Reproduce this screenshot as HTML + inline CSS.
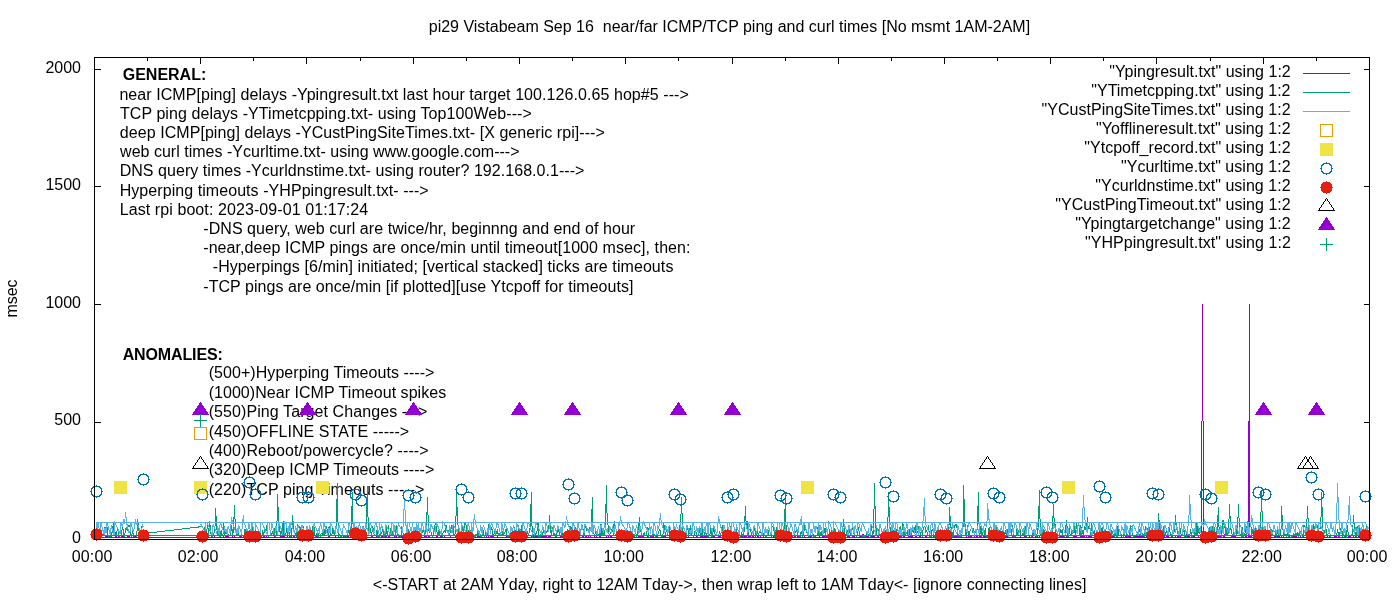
<!DOCTYPE html>
<html lang="en"><head><meta charset="utf-8"><title>pi29 Vistabeam ping and curl times</title>
<style>html,body{margin:0;padding:0;background:#fff}svg{display:block}path,rect,circle{shape-rendering:crispEdges}text{font-family:"Liberation Sans",Arial,sans-serif;font-size:16px;fill:#000}.b{font-weight:bold}.e{text-anchor:end}.m{text-anchor:middle}</style></head><body>
<svg width="1400" height="600" viewBox="0 0 1400 600">
<rect width="1400" height="600" fill="#fff"/>
<g id="labels">
<text x="428.73" y="31.7" textLength="601.4">pi29 Vistabeam Sep 16  near/far ICMP/TCP ping and curl times [No msmt 1AM-2AM]</text>
<text class="b" x="122.7" y="79.7" textLength="83.57">GENERAL:</text>
<text x="119.39" y="99.7" textLength="569.39">near ICMP[ping] delays -Ypingresult.txt last hour target 100.126.0.65 hop#5 ---&gt;</text>
<text x="119.93" y="118.88" textLength="411.88">TCP ping delays -YTimetcpping.txt- using Top100Web---&gt;</text>
<text x="119.8" y="138.06" textLength="484.98">deep ICMP[ping] delays -YCustPingSiteTimes.txt- [X generic rpi]---&gt;</text>
<text x="120.09" y="157.24" textLength="399.4">web curl times -Ycurltime.txt- using www.google.com---&gt;</text>
<text x="119.67" y="176.42" textLength="464.73">DNS query times -Ycurldnstime.txt- using router? 192.168.0.1---&gt;</text>
<text x="119.67" y="195.6" textLength="308.97">Hyperping timeouts -YHPpingresult.txt- ---&gt;</text>
<text x="119.67" y="214.78" textLength="248.51">Last rpi boot: 2023-09-01 01:17:24</text>
<text x="203.26" y="233.96" textLength="431.94">-DNS query, web curl are twice/hr, beginnng and end of hour</text>
<text x="203.26" y="253.14" textLength="487.24">-near,deep ICMP pings are once/min until timeout[1000 msec], then:</text>
<text x="212.76" y="272.32" textLength="460.62">-Hyperpings [6/min] initiated; [vertical stacked] ticks are timeouts</text>
<text x="203.26" y="291.5" textLength="430.28">-TCP pings are once/min [if plotted][use Ytcpoff for timeouts]</text>
<text class="b" x="122.7" y="359.6" textLength="100.11">ANOMALIES:</text>
<text x="208.67" y="378.4" textLength="225.77">(500+)Hyperping Timeouts ----&gt;</text>
<text x="208.67" y="397.8" textLength="237.51">(1000)Near ICMP Timeout spikes</text>
<text x="208.67" y="417.1" textLength="218.73">(550)Ping Target Changes ---&gt;</text>
<text x="208.67" y="436.5" textLength="200.47">(450)OFFLINE STATE -----&gt;</text>
<text x="208.67" y="455.8" textLength="219.89">(400)Reboot/powercycle? ----&gt;</text>
<text x="208.67" y="475.1" textLength="225.65">(320)Deep ICMP Timeouts ----&gt;</text>
<text x="208.67" y="494.5" textLength="215.76">(220)TCP ping Timeouts -----&gt;</text>
</g>
<path d="M94.5,539.5v-6M94.5,57.5v6M147.5,539.5v-3M147.5,57.5v3M200.5,539.5v-6M200.5,57.5v6M253.5,539.5v-3M253.5,57.5v3M306.5,539.5v-6M306.5,57.5v6M360.5,539.5v-3M360.5,57.5v3M413.5,539.5v-6M413.5,57.5v6M466.5,539.5v-3M466.5,57.5v3M519.5,539.5v-6M519.5,57.5v6M572.5,539.5v-3M572.5,57.5v3M625.5,539.5v-6M625.5,57.5v6M678.5,539.5v-3M678.5,57.5v3M732.5,539.5v-6M732.5,57.5v6M785.5,539.5v-3M785.5,57.5v3M838.5,539.5v-6M838.5,57.5v6M891.5,539.5v-3M891.5,57.5v3M944.5,539.5v-6M944.5,57.5v6M997.5,539.5v-3M997.5,57.5v3M1050.5,539.5v-6M1050.5,57.5v6M1103.5,539.5v-3M1103.5,57.5v3M1156.5,539.5v-6M1156.5,57.5v6M1210.5,539.5v-3M1210.5,57.5v3M1263.5,539.5v-6M1263.5,57.5v6M1316.5,539.5v-3M1316.5,57.5v3M1369.5,539.5v-6M1369.5,57.5v6M94.5,539.5h6M1369.5,539.5h-6M94.5,422.5h6M1369.5,422.5h-6M94.5,304.5h6M1369.5,304.5h-6M94.5,186.5h6M1369.5,186.5h-6M94.5,69.5h6M1369.5,69.5h-6" stroke="#000" stroke-width="1" fill="none"/>
<path d="M200.8,537.3 201.6,537.2 202.5,537.4 203.4,537.1 204.3,536.9 205.2,537.3 206.1,537 206.9,537 207.8,534.9 208.7,536.7 209.6,537.5 210.5,537.7 211.4,537.5 212.3,535.8 213.1,537.4 214,537.7 214.9,536.8 215.8,537.4 216.7,537 217.6,537.4 218.5,537.3 219.3,537.3 220.2,536.9 221.1,537.1 222,537.1 222.9,537 223.8,536.9 224.7,537.6 225.5,536.9 226.4,536.8 227.3,537.4 228.2,536.5 229.1,537 230,537.5 230.9,536.9 231.7,537.7 232.6,536.9 233.5,537.3 234.4,537 235.3,537.7 236.2,537 237.1,537.3 237.9,537.6 238.8,537.3 239.7,537.1 240.6,536.8 241.5,535.6 242.4,537.5 243.2,537.5 244.1,537.2 245,537 245.9,537 246.8,537.7 247.7,536.9 248.6,536.8 249.4,537.7 250.3,537.7 251.2,537 252.1,537 253,536.6 253.9,537.1 254.8,537.2 255.6,536 256.5,536.9 257.4,537.6 258.3,537.4 259.2,534.7 260.1,536.7 261,537.5 261.8,536.8 262.7,537.7 263.6,535 264.5,536.9 265.4,537.2 266.3,536.9 267.2,537.7 268,537.3 268.9,537.3 269.8,537.5 270.7,537.7 271.6,537.2 272.5,537.1 273.4,537.7 274.2,536.7 275.1,536.9 276,537 276.9,537.4 277.8,537.1 278.7,537.3 279.6,537.6 280.4,537 281.3,536.8 282.2,537 283.1,536.8 284,536.6 284.9,537.2 285.8,537.4 286.6,537.1 287.5,536.9 288.4,537.2 289.3,536.8 290.2,537 291.1,536.8 291.9,537.4 292.8,537.4 293.7,536.7 294.6,537 295.5,537.2 296.4,537.2 297.3,537.3 298.1,536.6 299,537.6 299.9,536.8 300.8,536.8 301.7,537.6 302.6,536.8 303.5,537.7 304.3,536.7 305.2,536.8 306.1,535.5 307,537.5 307.9,537.7 308.8,537.6 309.7,537.7 310.5,537.6 311.4,537.2 312.3,537 313.2,536.7 314.1,537.6 315,537.3 315.9,536.6 316.7,536.6 317.6,536.8 318.5,536.6 319.4,537.6 320.3,537.4 321.2,537 322.1,537.2 322.9,537.3 323.8,537.5 324.7,537.7 325.6,537.2 326.5,537.3 327.4,537.3 328.2,536.9 329.1,536.7 330,537.7 330.9,537.2 331.8,537 332.7,537.1 333.6,537.2 334.4,537.6 335.3,536.4 336.2,537.3 337.1,537.3 338,537.4 338.9,537.6 339.8,537.2 340.6,536.5 341.5,537.4 342.4,537.3 343.3,536.8 344.2,537.1 345.1,537.3 346,536.7 346.8,536.6 347.7,537.1 348.6,536.9 349.5,537.3 350.4,536.8 351.3,536.9 352.2,536.9 353,536.8 353.9,537 354.8,537.6 355.7,537 356.6,537.7 357.5,536.6 358.4,537.5 359.2,537.4 360.1,536.8 361,536.6 361.9,537.7 362.8,537.1 363.7,536.7 364.6,536.8 365.4,536.9 366.3,537.2 367.2,537.1 368.1,537 369,537.6 369.9,537.6 370.8,537.4 371.6,536.6 372.5,537 373.4,537.3 374.3,537.2 375.2,537 376.1,537.6 376.9,536.6 377.8,537.3 378.7,537.1 379.6,536.8 380.5,537.4 381.4,536.8 382.3,536.7 383.1,536.2 384,536.9 384.9,537.7 385.8,536.8 386.7,536.9 387.6,537.7 388.5,536.7 389.3,536.4 390.2,537 391.1,537.4 392,537 392.9,537.5 393.8,537.6 394.7,536.7 395.5,536.6 396.4,536.7 397.3,537.5 398.2,536.6 399.1,537.3 400,536.7 400.9,536.7 401.7,536.6 402.6,536.8 403.5,537.2 404.4,537.3 405.3,537.1 406.2,537.7 407.1,536.8 407.9,537.4 408.8,537.4 409.7,537.5 410.6,535.1 411.5,537.6 412.4,537.4 413.2,535 414.1,537.6 415,536.6 415.9,537.6 416.8,537.2 417.7,536.7 418.6,536.6 419.4,537.1 420.3,537.1 421.2,536.7 422.1,537 423,537 423.9,537 424.8,536.7 425.6,536.3 426.5,537.2 427.4,537.5 428.3,536.8 429.2,535.7 430.1,536.9 431,537.7 431.8,537.7 432.7,537.6 433.6,537.4 434.5,537.3 435.4,537.1 436.3,537.7 437.2,535.8 438,537.7 438.9,537.5 439.8,537.6 440.7,536.8 441.6,536.8 442.5,537.7 443.4,537.7 444.2,536.6 445.1,537 446,537.6 446.9,537.6 447.8,537.4 448.7,537.3 449.6,537.1 450.4,536.8 451.3,537.2 452.2,537.6 453.1,537.6 454,537.7 454.9,537.4 455.8,536.8 456.6,536.8 457.5,536.7 458.4,537.4 459.3,536.8 460.2,537.6 461.1,537.2 461.9,537.4 462.8,536.7 463.7,537.4 464.6,536.7 465.5,534.8 466.4,536.7 467.3,537.4 468.1,537.6 469,536.9 469.9,537 470.8,537.6 471.7,535.7 472.6,537.4 473.5,537.3 474.3,537.5 475.2,536.7 476.1,537.3 477,537.1 477.9,536.8 478.8,537 479.7,536.9 480.5,537.7 481.4,536.7 482.3,537.5 483.2,537.5 484.1,536.9 485,537.4 485.9,537.2 486.7,536.8 487.6,537.7 488.5,536.7 489.4,537.6 490.3,536.6 491.2,537.1 492.1,536.7 492.9,537.3 493.8,536.9 494.7,537.6 495.6,537.2 496.5,537.2 497.4,536.8 498.2,537.1 499.1,537.3 500,537.7 500.9,537 501.8,537.7 502.7,537.2 503.6,537.7 504.4,537.7 505.3,537.4 506.2,536.8 507.1,537.1 508,537 508.9,535.6 509.8,534.9 510.6,536.7 511.5,536.8 512.4,536.7 513.3,536.9 514.2,537.7 515.1,536.6 516,537.1 516.8,537.4 517.7,536.9 518.6,536.6 519.5,537.7 520.4,537.4 521.3,536.9 522.2,537.1 523,537.1 523.9,536.9 524.8,535 525.7,537.7 526.6,537.5 527.5,537.3 528.4,537.4 529.2,537.2 530.1,537.5 531,537.7 531.9,536.8 532.8,537.6 533.7,536.9 534.6,536.9 535.4,536.7 536.3,537 537.2,536.9 538.1,535.9 539,537.5 539.9,537.3 540.8,537.4 541.6,537 542.5,535.7 543.4,536.9 544.3,536.8 545.2,536.6 546.1,536.8 546.9,536.7 547.8,537.7 548.7,536.5 549.6,536.8 550.5,536.6 551.4,537.5 552.3,537.7 553.1,537.4 554,537.7 554.9,537.6 555.8,536.8 556.7,537.1 557.6,537.3 558.5,537.3 559.3,537 560.2,537.3 561.1,536.6 562,536.6 562.9,537.6 563.8,536.7 564.7,537.6 565.5,537.5 566.4,537.3 567.3,537.3 568.2,537.1 569.1,537.7 570,537.2 570.9,537.3 571.7,536.8 572.6,537 573.5,536.9 574.4,536.9 575.3,537.1 576.2,536.8 577.1,536.6 577.9,537.5 578.8,536.9 579.7,537.5 580.6,537.1 581.5,537.1 582.4,537 583.2,536.8 584.1,537.2 585,537.5 585.9,536.8 586.8,537.1 587.7,537.2 588.6,536.7 589.4,537.7 590.3,536.6 591.2,537.3 592.1,537.5 593,537.2 593.9,537.3 594.8,536.6 595.6,537.4 596.5,536.8 597.4,537.5 598.3,537.3 599.2,536.7 600.1,537.1 601,536.8 601.8,537.5 602.7,537.6 603.6,537.2 604.5,537.5 605.4,537.4 606.3,536.7 607.2,537.1 608,537.6 608.9,536.7 609.8,537.4 610.7,535.6 611.6,537.5 612.5,537.5 613.4,537.1 614.2,537.4 615.1,537.7 616,536.8 616.9,537.2 617.8,537.1 618.7,537.7 619.6,536.6 620.4,537.2 621.3,536.9 622.2,537 623.1,537.7 624,536.4 624.9,537.5 625.8,536.9 626.6,537.3 627.5,536.7 628.4,537.1 629.3,537.4 630.2,537.2 631.1,537.1 631.9,536.7 632.8,537.4 633.7,536.9 634.6,537.2 635.5,537.1 636.4,537.7 637.3,537.6 638.1,537.4 639,536.6 639.9,537.4 640.8,536.2 641.7,537.6 642.6,536.6 643.5,536.6 644.3,537.3 645.2,537.4 646.1,537 647,537.2 647.9,535.3 648.8,537.6 649.7,537.6 650.5,536 651.4,536.9 652.3,536.7 653.2,536.8 654.1,537.2 655,537.3 655.9,537.2 656.7,537.7 657.6,536.8 658.5,537.5 659.4,537.5 660.3,537.2 661.2,537.2 662.1,536.8 662.9,536.9 663.8,536.9 664.7,536.8 665.6,536.7 666.5,537.1 667.4,537.2 668.2,537.6 669.1,537.6 670,537.7 670.9,537.4 671.8,537.7 672.7,536.6 673.6,536.8 674.4,537.7 675.3,537.4 676.2,537.7 677.1,537.4 678,537.5 678.9,537.6 679.8,537.7 680.6,537.7 681.5,537.3 682.4,537.1 683.3,537.5 684.2,537.6 685.1,536.8 686,537.2 686.8,537.4 687.7,537.6 688.6,536.8 689.5,537.4 690.4,537.3 691.3,537.4 692.2,537.1 693,537.1 693.9,537.1 694.8,537.2 695.7,537.5 696.6,536.7 697.5,536.6 698.4,537.4 699.2,537.4 700.1,536.7 701,537.1 701.9,536.9 702.8,536.9 703.7,537 704.6,537 705.4,536.8 706.3,536.7 707.2,536.6 708.1,537.5 709,537.1 709.9,537.2 710.8,537.5 711.6,537.2 712.5,536.9 713.4,537.7 714.3,535.9 715.2,537.4 716.1,537.4 716.9,537.7 717.8,537 718.7,536.8 719.6,536 720.5,537.2 721.4,537.6 722.3,536.7 723.1,537.4 724,537.4 724.9,537.1 725.8,537.6 726.7,536.8 727.6,537.6 728.5,536.7 729.3,536.6 730.2,537.2 731.1,537.1 732,536.6 732.9,537.4 733.8,536.9 734.7,536.8 735.5,537.7 736.4,537.6 737.3,537.4 738.2,537.3 739.1,537.1 740,537.6 740.9,537.4 741.7,535.1 742.6,537.6 743.5,537 744.4,536.9 745.3,536.8 746.2,536.7 747.1,537 747.9,537.5 748.8,536.7 749.7,536.8 750.6,536.7 751.5,537.4 752.4,537 753.2,536.8 754.1,537.1 755,537.3 755.9,536.6 756.8,537.6 757.7,536.9 758.6,536.8 759.4,537.2 760.3,536.6 761.2,537.6 762.1,537.4 763,537.2 763.9,536.8 764.8,537.6 765.6,536.6 766.5,537.4 767.4,537.7 768.3,537.5 769.2,537.3 770.1,537.7 771,537.4 771.8,536.7 772.7,537.3 773.6,536.5 774.5,535.9 775.4,536.8 776.3,537.7 777.2,537.7 778,536.7 778.9,537.2 779.8,536.7 780.7,535.6 781.6,536.9 782.5,537.2 783.4,537.4 784.2,537.1 785.1,537.1 786,536.8 786.9,537.6 787.8,537.2 788.7,537.5 789.6,536.6 790.4,537.7 791.3,537.4 792.2,536.9 793.1,537.4 794,536.8 794.9,536.9 795.8,536.9 796.6,537.4 797.5,536.6 798.4,536.9 799.3,537.2 800.2,536.9 801.1,537.5 801.9,537.2 802.8,536.7 803.7,535 804.6,536.9 805.5,537.7 806.4,537.1 807.3,537.6 808.1,537.3 809,537.5 809.9,537 810.8,535.8 811.7,536.8 812.6,537.4 813.5,537.3 814.3,536.8 815.2,536.9 816.1,537 817,537 817.9,537.2 818.8,537.4 819.7,536.7 820.5,537.3 821.4,537.6 822.3,536.7 823.2,536.7 824.1,536.8 825,537.2 825.9,536.6 826.7,537.1 827.6,536.9 828.5,537.1 829.4,535.4 830.3,536.9 831.2,536.9 832.1,537.2 832.9,537.5 833.8,537 834.7,537.5 835.6,537.7 836.5,537.1 837.4,537 838.2,537.2 839.1,537.1 840,537.5 840.9,537 841.8,537.5 842.7,536.9 843.6,537.6 844.4,537.3 845.3,537.2 846.2,537.4 847.1,536.9 848,536.6 848.9,536.7 849.8,536.6 850.6,537.4 851.5,537.2 852.4,536.7 853.3,536.4 854.2,536.6 855.1,537.1 856,537.2 856.8,536.7 857.7,537.2 858.6,537.2 859.5,537.2 860.4,537.5 861.3,535.8 862.2,536.7 863,534.5 863.9,536.7 864.8,537.7 865.7,537.5 866.6,536.2 867.5,536.9 868.4,535.7 869.2,537.7 870.1,537.6 871,537.1 871.9,536.9 872.8,536.7 873.7,536.9 874.6,536.1 875.4,537.7 876.3,537.3 877.2,537.4 878.1,536.7 879,537.4 879.9,537 880.8,536.7 881.6,536.8 882.5,535.8 883.4,537.4 884.3,537.5 885.2,535.8 886.1,537.3 886.9,536.4 887.8,536.7 888.7,537.5 889.6,537.3 890.5,537.3 891.4,537 892.3,537.4 893.1,537.3 894,537.3 894.9,536.9 895.8,536.9 896.7,537.4 897.6,536.6 898.5,537.5 899.3,537.3 900.2,537.1 901.1,536.8 902,536.9 902.9,537.5 903.8,536.7 904.7,536.9 905.5,537.4 906.4,537.7 907.3,537.3 908.2,537.7 909.1,536.3 910,536.9 910.9,536.9 911.7,536.9 912.6,537 913.5,537.7 914.4,537.3 915.3,537.7 916.2,534.5 917.1,537.7 917.9,537.2 918.8,537.4 919.7,536.7 920.6,536.3 921.5,537.5 922.4,537.4 923.2,537.7 924.1,537.7 925,537 925.9,535.6 926.8,537.6 927.7,537.3 928.6,537.6 929.4,537.7 930.3,537 931.2,537.5 932.1,537.3 933,537.2 933.9,535.2 934.8,535.3 935.6,536.9 936.5,536.7 937.4,537 938.3,537.2 939.2,537.1 940.1,537.3 941,536.7 941.8,537.3 942.7,536.9 943.6,536.8 944.5,536.9 945.4,537.7 946.3,536.7 947.2,536.7 948,537.2 948.9,536.2 949.8,537.5 950.7,537 951.6,536.7 952.5,536.9 953.4,535.8 954.2,537 955.1,536.7 956,537.2 956.9,536.6 957.8,536.7 958.7,537 959.6,536.7 960.4,537.4 961.3,537.7 962.2,537.6 963.1,537.6 964,537.4 964.9,537 965.7,537.5 966.6,537 967.5,537.1 968.4,536.7 969.3,536.8 970.2,537.6 971.1,536.6 971.9,537.6 972.8,537.6 973.7,537.5 974.6,536.7 975.5,537.1 976.4,537 977.3,535.9 978.1,537.1 979,537.5 979.9,536.7 980.8,536.9 981.7,537.4 982.6,537.4 983.5,536.9 984.3,536.6 985.2,536.6 986.1,537.1 987,536.7 987.9,537.7 988.8,537.7 989.7,536.9 990.5,537.1 991.4,537.5 992.3,537.4 993.2,536.8 994.1,536.8 995,536.8 995.9,537.1 996.7,536.8 997.6,536.7 998.5,537.7 999.4,536.6 1000.3,536 1001.2,536.9 1002.1,536.6 1002.9,536.8 1003.8,537.3 1004.7,537.4 1005.6,536.7 1006.5,536.7 1007.4,536.8 1008.2,537 1009.1,537.5 1010,537.4 1010.9,537.6 1011.8,537.4 1012.7,536.7 1013.6,535.7 1014.4,537 1015.3,537.2 1016.2,537.1 1017.1,537.4 1018,537 1018.9,537 1019.8,537.5 1020.6,536.8 1021.5,537.3 1022.4,537.7 1023.3,537 1024.2,537 1025.1,536.6 1026,535.5 1026.8,537.1 1027.7,537.6 1028.6,537.4 1029.5,536.6 1030.4,537.6 1031.3,537.4 1032.2,536.9 1033,536.8 1033.9,537.7 1034.8,537.1 1035.7,536.9 1036.6,537.3 1037.5,537 1038.4,537.6 1039.2,536.5 1040.1,537 1041,537.2 1041.9,537.1 1042.8,537.7 1043.7,537.3 1044.6,536.6 1045.4,537.1 1046.3,536.7 1047.2,536.6 1048.1,536.6 1049,537 1049.9,536.7 1050.8,536.9 1051.6,536.8 1052.5,536.6 1053.4,536.6 1054.3,536.6 1055.2,537.5 1056.1,537.2 1056.9,536.7 1057.8,537.3 1058.7,537.6 1059.6,537.4 1060.5,535.7 1061.4,536.8 1062.3,537 1063.1,536.7 1064,537.3 1064.9,537.1 1065.8,537.5 1066.7,535.5 1067.6,536.7 1068.5,537.2 1069.3,537.4 1070.2,537.4 1071.1,537.1 1072,537.1 1072.9,537.6 1073.8,536.7 1074.7,537.1 1075.5,536.9 1076.4,536.7 1077.3,537.5 1078.2,537.5 1079.1,536.9 1080,537.3 1080.9,536.7 1081.7,537.1 1082.6,537 1083.5,536.6 1084.4,536.8 1085.3,537.4 1086.2,536.9 1087.1,537.1 1087.9,537.2 1088.8,536.7 1089.7,535.5 1090.6,537.1 1091.5,536.9 1092.4,537.2 1093.2,537.6 1094.1,537.7 1095,537.4 1095.9,536.8 1096.8,537.2 1097.7,536.7 1098.6,537 1099.4,537.7 1100.3,537.4 1101.2,537.7 1102.1,534.8 1103,537.1 1103.9,537.2 1104.8,537.4 1105.6,537 1106.5,537.4 1107.4,537.4 1108.3,537 1109.2,537.2 1110.1,535.7 1111,537.7 1111.8,537.1 1112.7,536.9 1113.6,536.8 1114.5,537 1115.4,537.1 1116.3,537.7 1117.2,537.4 1118,537.5 1118.9,537.2 1119.8,537 1120.7,537.4 1121.6,536.9 1122.5,537.7 1123.4,537.5 1124.2,537.6 1125.1,537.1 1126,536.6 1126.9,537.6 1127.8,537.1 1128.7,537 1129.6,535.5 1130.4,537.1 1131.3,537.7 1132.2,537.3 1133.1,536.9 1134,536.9 1134.9,537.7 1135.8,537 1136.6,535.5 1137.5,536.7 1138.4,536.7 1139.3,534.9 1140.2,537.5 1141.1,536.6 1141.9,536.7 1142.8,535.7 1143.7,537 1144.6,536.6 1145.5,537.1 1146.4,537.3 1147.3,535.8 1148.1,536.9 1149,537.2 1149.9,536.7 1150.8,536.9 1151.7,537.6 1152.6,536.7 1153.5,536.6 1154.3,536.8 1155.2,536.9 1156.1,537.2 1157,537.5 1157.9,537.5 1158.8,536.8 1159.7,537.3 1160.5,537 1161.4,536.6 1162.3,537.6 1163.2,537.3 1164.1,537 1165,536.9 1165.9,537.5 1166.7,537 1167.6,535.3 1168.5,535.4 1169.4,537.6 1170.3,537.5 1171.2,536.7 1172.1,535.2 1172.9,537.2 1173.8,537.2 1174.7,537.2 1175.6,536.6 1176.5,537.6 1177.4,537.1 1178.2,536.6 1179.1,537.7 1180,537 1180.9,536.9 1181.8,537.4 1182.7,537 1183.6,537.3 1184.4,536.7 1185.3,537.5 1186.2,535 1187.1,537.2 1188,535.7 1188.9,536.8 1189.8,536.6 1190.6,537.7 1191.5,536.8 1192.4,536.2 1193.3,537.1 1194.2,536.7 1195.1,537.3 1196,537.6 1196.8,537.3 1197.7,537.4 1198.6,537 1199.5,537.5 1200.4,537 1201.3,537.3 1202.2,535.8 1203,536.9 1203.9,537.1 1204.8,536.2 1205.7,537.5 1206.6,536.9 1207.5,537.7 1208.4,537.6 1209.2,537.2 1210.1,537.4 1211,536.9 1211.9,537.6 1212.8,537.3 1213.7,537.6 1214.6,537.6 1215.4,536.8 1216.3,537.4 1217.2,537.4 1218.1,537 1219,536.9 1219.9,536.6 1220.8,536.9 1221.6,536.8 1222.5,537.7 1223.4,536.6 1224.3,535.1 1225.2,537.4 1226.1,537.2 1226.9,536.9 1227.8,537.7 1228.7,537 1229.6,537.3 1230.5,537.1 1231.4,537.3 1232.3,535.6 1233.1,536.9 1234,536.9 1234.9,536.7 1235.8,536.7 1236.7,537.2 1237.6,537.3 1238.5,537.2 1239.3,537.5 1240.2,537.7 1241.1,537.5 1242,537.4 1242.9,537.1 1243.8,537.2 1244.7,537.7 1245.5,535 1246.4,537 1247.3,537.5 1248.2,536.7 1249.1,537.6 1250,536.7 1250.9,537 1251.7,536.9 1252.6,537.7 1253.5,537.5 1254.4,537 1255.3,536.8 1256.2,537.2 1257.1,537.4 1257.9,536.6 1258.8,536.6 1259.7,537.2 1260.6,537.5 1261.5,536.8 1262.4,537.7 1263.2,537.5 1264.1,537.3 1265,536.9 1265.9,536.8 1266.8,537.3 1267.7,537.3 1268.6,537.2 1269.4,536.7 1270.3,537.1 1271.2,537.1 1272.1,536.9 1273,537.6 1273.9,537.4 1274.8,536.6 1275.6,536.6 1276.5,537.4 1277.4,537.2 1278.3,535.3 1279.2,536.7 1280.1,537.3 1281,537.1 1281.8,536.9 1282.7,537.3 1283.6,536.9 1284.5,537.3 1285.4,537.6 1286.3,537 1287.2,537.3 1288,537.5 1288.9,537.1 1289.8,536.8 1290.7,537.1 1291.6,537.2 1292.5,536.8 1293.4,536.7 1294.2,537.4 1295.1,536.6 1296,537.1 1296.9,536.8 1297.8,537.2 1298.7,537.2 1299.6,537.2 1300.4,537.7 1301.3,534.9 1302.2,536.6 1303.1,536.7 1304,537.3 1304.9,537.5 1305.8,537.5 1306.6,536.6 1307.5,535.5 1308.4,536.6 1309.3,537.7 1310.2,537.4 1311.1,537.2 1311.9,536.6 1312.8,537.3 1313.7,536.9 1314.6,537.2 1315.5,537 1316.4,536.7 1317.3,536.7 1318.1,536.9 1319,537.6 1319.9,536.7 1320.8,536.6 1321.7,536.7 1322.6,537.3 1323.5,537.5 1324.3,537.1 1325.2,537.3 1326.1,537.4 1327,536.8 1327.9,537.1 1328.8,537.1 1329.7,536.8 1330.5,537.2 1331.4,537.2 1332.3,537.7 1333.2,537.2 1334.1,536.8 1335,537.1 1335.9,536.8 1336.7,536.7 1337.6,537.2 1338.5,536.9 1339.4,537.3 1340.3,537.6 1341.2,537.5 1342.1,537 1342.9,537.7 1343.8,537 1344.7,535.7 1345.6,537 1346.5,537.7 1347.4,537.3 1348.2,536.6 1349.1,536.9 1350,536.7 1350.9,537.2 1351.8,537.5 1352.7,537.2 1353.6,536.7 1354.4,537.5 1355.3,536.8 1356.2,537.4 1357.1,537 1358,537.6 1358.9,536.7 1359.8,536.7 1360.6,537.1 1361.5,537.4 1362.4,536.7 1363.3,536.8 1364.2,536.6 1365.1,536.8 1366,536.3 1366.8,536.5 1367.7,536.8 1368.6,536.8 1368.4,537.1 96.1,537.1 96.3,537.5 97.2,537.5 98,537.2 98.9,537.5 99.8,537.3 100.7,537.6 101.6,537.3 102.5,537.6 103.4,537.5 104.2,537.7 105.1,536.6 106,534.9 106.9,536.7 107.8,536.7 108.7,536.7 109.6,536.9 110.4,537.1 111.3,536.8 112.2,537.5 113.1,537.5 114,537.1 114.9,537 115.8,536.3 116.6,536.6 117.5,537.6 118.4,537.1 119.3,535.9 120.2,537.6 121.1,536.7 121.9,536.8 122.8,536.9 123.7,535.8 124.6,537.4 125.5,537.2 126.4,537.5 127.3,536.9 128.1,537.6 129,536.6 129.9,537.5 130.8,537.1 131.7,536.7 132.6,537.5 133.5,535.7 134.3,537.3 135.2,536.6 136.1,537.5 137,537.7 137.9,537.3 138.8,536.9 139.7,537.4 140.5,536.9 141.4,537.7 142.3,537.5 143.2,537.5" fill="none" stroke="#9400d3" stroke-width="1" stroke-linejoin="miter"/>
<path d="M1201.5,537V421M1202.5,421V304M1203.5,421V537M1248.5,537V421M1249.5,537V304" fill="none" stroke="#9400d3" stroke-width="1"/>
<path d="M200.8,532.1 201.6,535.5 202.5,530.4 203.4,535.9 204.3,528.8 205.2,526 206.1,532 206.9,529.5 207.8,525.5 208.7,536.4 209.6,520.8 210.5,530.2 211.4,536.1 212.3,536.3 213.1,535.4 214,532.9 214.9,529.6 215.5,508 216.7,527.4 217.6,535.6 218.5,532.9 219.3,536.1 220.2,536.2 221.1,530.3 222,534.6 222.9,535.3 223.8,523.4 224.7,536.1 225.5,530.5 226.4,531.5 227.3,535.4 228.2,534.6 229.1,535.6 230,535.5 230.9,531.8 231.7,525.2 232.6,536.3 233.5,529.2 234.5,505.5 235.3,526.9 236.2,531.3 237.1,536 237.9,529.6 238.8,535.3 239.7,536.2 240.6,535.9 241.5,533.8 242.4,535.9 243.2,535.8 244.1,536.1 245,529 245.9,534.6 246.8,529.5 247.7,530.1 248.6,535.6 249.4,535.4 250.3,531.5 251.2,536 252.1,533.6 253,527.2 253.9,535.4 254.8,533.6 255.6,535.7 256.5,532.8 257.4,534.5 258.3,536.3 259.2,531.4 260.1,531.8 261,535.8 261.8,536.3 262.7,529.8 263.6,535.6 264.5,530 265.4,529.2 266.3,530 267.2,524 268,535.5 268.9,536.3 269.8,535.3 270.7,532.5 271.6,534.3 272.5,531.5 273.4,536.2 274.2,527.7 275.1,535.7 276,536.4 276.9,527.5 277.5,494 278.7,524.3 279.6,528.5 280.4,536 281.3,528.4 282.2,535.9 283.1,520.7 284,535.4 284.9,534.1 285.8,535.7 286.6,526 287.5,535.9 288.4,527.1 289.3,534.5 290.2,536.3 291.1,535.6 291.9,530.7 292.5,515 293.7,528.9 294.6,532.5 295.5,534 296.4,535.7 297.3,524.4 298.1,533.8 299,535.3 299.9,525.8 300.8,534.5 301.7,535.3 302.6,535.6 303.5,526.4 304.3,535.4 305.2,533.7 306.1,536.1 307,536.2 307.9,535.9 308.8,535.4 309.7,530.3 310.5,533.9 311.4,536.1 312.3,530.7 313.2,525.2 314.1,527.5 315,536.3 315.9,535.5 316.7,533.5 317.6,536.4 318.5,536.2 319.4,530.2 320.3,535.9 321.2,533.9 322.1,533.6 322.9,536.2 323.8,527.5 324.7,535.9 325.6,529.9 326.5,526.6 327.4,531.3 328.2,536 329.1,526.5 330,526.9 330.9,535.5 331.8,535.4 332.7,527.7 333.6,531.4 334.4,536.3 335.3,528.9 336.2,525.9 337.5,483 338,521.9 338.9,535.5 339.8,534.5 340.6,536.2 341.5,536 342.4,535.5 343.3,535.7 344.2,536.1 345.1,535.7 346,535.5 346.8,536.2 347.7,535.9 348.6,526.2 349.5,535.3 350.4,526.8 351.3,527.3 352.5,492.5 353,524 353.9,530.7 354.8,531.9 355.7,535.8 356.6,528.1 357.5,528.4 358.4,535.5 359.2,536.2 360.1,534.4 361,535.7 361.9,534.2 362.8,536.4 363.7,525.6 364.6,536 365.4,535.7 366.3,526.3 367.5,486 368.1,522.6 369,532.2 369.9,527.2 370.8,531.4 371.6,535.6 372.5,527 373.4,528.7 374.3,535.8 375.2,535.8 376.1,535.8 376.9,530.5 377.8,536.4 378.7,536 379.6,536.3 380.5,532.5 381.4,533.1 382.3,531.8 383.1,528.8 384,536.4 384.9,535.9 385.8,525.1 386.7,533.5 387.6,535.6 388.5,525.1 389.3,536.1 390.2,532.4 391.1,528 392,536 392.9,531.4 393.8,535.3 394.7,536 395.5,536.3 396.4,525.2 397.3,527.3 398.2,536.4 399.1,535.3 400,535.3 400.9,536.4 401.7,526.3 402.6,532.2 403.5,534 404.4,536 405.3,535.7 406.2,534.1 407.1,530.1 407.9,536.2 408.8,529.5 409.7,535.5 410.6,535.6 411.5,530.7 412.4,535.5 413.2,530.9 414.1,536.3 415,530.5 415.9,535.8 416.8,534.4 417.7,531.1 418.6,536.4 419.4,536 420.3,534 421.2,535.4 422.1,532.8 423,530.1 423.9,530.9 424.8,536 425.6,529.6 426.5,528 427.5,497 428.3,525 429.2,532.5 430.1,531.8 431,531.6 431.8,535.6 432.7,536.1 433.6,535.6 434.5,525.4 435.4,524.9 436.3,522.6 437.2,534.4 438,536.3 438.9,530.3 439.8,535.4 440.7,535.6 441.6,534.2 442.5,535.6 443.4,531.5 444.2,530.9 445.1,532.1 446,525.5 446.9,530.1 447.8,530.7 448.7,531 449.6,535.9 450.4,530.5 451.3,525.4 452.2,530.5 453.1,524.6 454,536.1 454.9,535.5 455.8,526.9 456.5,490 457.5,523.4 458.4,526.9 459.3,536 460.2,530.7 461.1,535.4 461.9,525.9 462.8,530.1 463.7,532.7 464.6,522.7 465.5,522.5 466.4,526.4 467.3,536.3 468.1,530.3 469,535.8 469.9,529.3 470.8,535.4 471.7,535.6 472.6,535.6 473.5,535.3 474.3,536 475.2,536.2 476.1,534.1 477,535.9 477.9,529.3 478.8,535.4 479.7,533 480.5,536.1 481.4,536.4 482.3,536 483.2,530.2 484.1,536.2 485,536.2 485.9,532.1 486.7,535.9 487.6,535.9 488.5,525.6 489.4,527.6 490.3,530.2 491.2,527.5 492.1,529.7 492.9,535.9 493.8,535.8 494.7,528.6 495.6,535.5 496.5,532.2 497.4,530.6 498.2,535.5 499.1,533.2 500,535.6 500.9,534.2 501.8,535.8 502.7,531.2 503.6,534.6 504.4,533.3 505.3,531.7 506.2,528.9 507.1,536 508,536 508.9,536.2 509.8,536.2 510.6,533.1 511.5,533.8 512.4,532.1 513.3,526.1 514.2,527.5 515.1,534.6 516,535.9 516.8,535.9 517.7,535.9 518.6,525 519.5,533.3 520.4,535.9 521.3,525.4 522.2,536.1 523,531.5 523.9,533.6 524.8,532.5 525.7,535.4 526.6,535.4 527.5,531.6 528.4,536.1 529.2,532.1 530.1,527.3 531.5,492.5 531.9,524 532.8,536.3 533.7,534.7 534.6,536.3 535.4,533.4 536.3,533.1 537.2,530.4 538.1,521.8 539,536.4 539.9,535.4 540.8,536.4 541.6,529.6 542.5,535.5 543.4,530.7 544.3,530.4 545.2,531.1 546.1,531.1 546.9,532.3 547.8,526.5 548.7,530.7 549.5,515 550.5,528.9 551.4,535.8 552.3,526.8 553.1,530 554,536 554.9,533.8 555.8,535.6 556.7,536.2 557.6,525.3 558.5,530.6 559.3,532.6 560.2,535.7 561.1,535.3 562,533 562.9,535.3 563.8,535.6 564.7,536.1 565.5,535.7 566.4,533.5 567.3,531 568.2,535.9 569.1,535.5 570,525.8 570.9,535.4 571.7,527.4 572.6,530.1 573.5,535.6 574.4,530.3 575.3,526.8 576.2,535.9 577.1,529 577.9,536.4 578.8,535.5 579.7,536 580.6,529.1 581.5,528.5 582.4,525 583.2,530.6 584.1,536.1 585,526.2 585.9,527.8 586.8,530.3 587.7,529.3 588.6,530.5 589.4,527.2 590.3,528 591.2,528 592.5,497.5 593,525.1 593.9,534 594.8,535.5 595.6,530.9 596.5,536.2 597.4,532.4 598.3,535.6 599.2,533.6 600.1,535.7 601,523.6 601.8,535.7 602.7,531.6 603.6,535.5 604.5,535.5 605.4,526.2 606.5,485 607.2,522.3 608,524.9 608.9,533.7 609.8,534.6 610.7,533.4 611.6,530.3 612.5,528 613.4,535.8 614.2,520.9 615.1,535.9 616,535.8 616.9,536.3 617.8,536.4 618.7,535.8 619.6,528.7 620.4,533.4 621.3,536.1 622.2,536.4 623.1,530.6 624,535.7 624.9,532.2 625.8,536.4 626.6,535.4 627.5,535.8 628.4,536.4 629.3,535.6 630.2,535.9 631.1,531.7 631.9,535.4 632.8,533.8 633.7,535.5 634.6,536 635.5,532.1 636.4,536.2 637.3,535.9 638.1,531 639.5,517.5 639.9,529.5 640.8,531.2 641.7,536 642.6,535.4 643.5,535.8 644.3,531.9 645.2,535.5 646.1,535.8 647,530.8 647.9,526.7 648.8,536.3 649.7,535.5 650.5,535.5 651.4,536.2 652.3,535.4 653.2,527.2 654.1,535.3 655,536 655.9,536.2 656.7,536 657.6,535.4 658.5,532.3 659.4,529.3 660.3,530.2 661.2,536.2 662.1,536.2 662.9,535.7 663.8,523.5 664.7,529.4 665.6,535.7 666.5,526.9 667.4,535.8 668.2,528.7 669.1,526.9 670,536.2 670.9,531.8 671.8,533.6 672.7,535.6 673.6,536.4 674.4,533.9 675.3,528.5 676.2,531.2 677.1,534.1 678,530.2 678.9,536.3 679.8,526.8 680.6,528 681.5,497.5 682.4,525.1 683.3,535.3 684.2,535.6 685.1,536.2 686,535.8 686.8,528.6 687.7,527.3 688.6,535.7 689.5,531.2 690.4,525.5 691.3,535.5 692.2,535.6 693,536.2 693.9,536.2 694.8,532 695.7,530.3 696.6,535.8 697.5,536.1 698.4,535.5 699.2,532.3 700.1,528.2 701,535.9 701.9,526.1 702.8,536 703.7,536.1 704.6,534.7 705.4,529.3 706.3,535.4 707.2,535.9 708.1,536.2 709,536.2 709.9,535.4 710.8,526.7 711.6,536 712.5,536 713.4,528.6 714.3,527.7 715.2,535.9 716.1,535.6 716.9,536.1 717.8,535.5 718.7,535.5 719.6,531.6 720.5,535.6 721.4,531.7 722.3,524.8 723.1,534.7 724,536.3 724.9,533.9 725.8,531.1 726.7,533.6 727.6,530.3 728.5,532.9 729.3,535.5 730.2,532.6 731.1,525.1 732,535.9 732.9,534.7 733.8,535.4 734.7,535.8 735.5,531.1 736.4,526.7 737.3,534.4 738.2,535.4 739.1,533.6 740,535.9 740.9,536.4 741.7,533 742.6,535.5 743.5,536.4 744.4,529.4 745.5,506.3 746.2,527 747.1,521.1 747.9,535.4 748.8,529.4 749.7,530 750.6,528.4 751.5,535.4 752.4,535.7 753.2,535.4 754.1,525.3 755,530.9 755.9,535.3 756.8,534.1 757.7,531.4 758.6,535.5 759.4,531.3 760.3,532.6 761.2,532.6 762.1,532.7 763,536 763.9,533.8 764.8,534.6 765.6,536.1 766.5,536.4 767.4,535.7 768.3,530.5 769.2,535.8 770.1,536.1 771,535.4 771.8,526.4 772.7,526.2 773.6,525.9 774.5,536 775.4,535.8 776.3,526.7 777.2,535.6 778,530.1 778.9,536.1 779.8,535.5 780.7,529.4 781.6,535.9 782.5,535.7 783.4,527.8 784.2,528.1 785.5,498.3 786,525.3 786.9,531.8 787.8,535.3 788.7,536.1 789.6,532.4 790.4,536.1 791.3,533.2 792.2,535.6 793.1,536.2 794,535.3 794.9,532.6 795.8,532 796.6,529.3 797.5,535.8 798.4,535.7 799.3,536.4 800.2,536.3 801.1,531.4 801.9,533.9 802.8,536.2 803.7,534.8 804.6,524.8 805.5,526.5 806.4,532.7 807.3,532.4 808.1,535.8 809,536.4 809.9,535.3 810.8,530.5 811.7,531.2 812.6,531.9 813.5,536.3 814.3,535.9 815.2,536.3 816.1,535.3 817,536.2 817.9,527 818.8,536.1 819.7,529.6 820.5,536 821.4,531.6 822.3,535.9 823.2,531.4 824.1,532.7 825,527.7 825.9,536.3 826.7,535.6 827.6,536.2 828.5,521 829.4,534.4 830.3,536.2 831.2,535.8 832.1,529.8 832.9,534.2 833.8,535.8 834.7,529 835.6,530.5 836.5,533.1 837.4,535.6 838.2,531.7 839.1,531.8 840,535.3 840.9,536.4 841.8,535.4 842.7,531.3 843.5,519 844.4,529.8 845.3,535.4 846.2,535.8 847.1,530.4 848,532.8 848.9,528.2 849.8,532.2 850.6,534.5 851.5,531.9 852.4,525.5 853.3,532.1 854.2,533.8 855.1,535.6 856,536 856.8,536.2 857.7,532.9 858.6,527.3 859.5,536 860.4,535.5 861.3,535.6 862.2,536.3 863,536.1 863.9,536 864.8,536.4 865.7,536.1 866.6,535.7 867.5,530.8 868.4,535.7 869.2,535.3 870.1,536.2 871,525.4 871.9,530.5 872.8,536.4 873.7,525.9 874.5,483.3 875.4,522 876.3,530.4 877.2,536.1 878.1,535.8 879,528.9 879.9,535.6 880.8,536.1 881.6,533.9 882.5,535.3 883.4,536.2 884.3,533.4 885.2,531.5 886.1,536.2 886.9,535.6 887.8,527.3 888.5,492.5 889.6,524 890.5,530.1 891.4,535.9 892.3,535.3 893.1,531.8 894,535.5 894.9,529.8 895.8,535.4 896.7,531.2 897.6,526 898.5,536.2 899.3,531.8 900.2,526.3 901.1,535.7 902,530.3 902.9,522.7 903.8,535.7 904.7,532.7 905.5,536.2 906.4,532.9 907.3,531.3 908.2,536.1 909.1,528.8 910,535.4 910.9,536 911.7,535.3 912.6,525.3 913.5,532.1 914.4,531.4 915.3,525.5 916.2,534.5 917.1,532.8 917.9,531.3 918.8,526.6 919.7,530.1 920.6,535.6 921.5,535.8 922.4,536 923.2,528.7 924.1,526.9 925,526.9 925.9,532.2 926.8,530.5 927.7,536.2 928.6,524.9 929.4,536.1 930.3,536.2 931.2,536.2 932.1,529.8 933,530.8 933.9,535.9 934.8,536.3 935.6,535.7 936.5,535.4 937.4,530.1 938.3,535.8 939.2,531.8 940.1,531.9 941,535.6 941.8,532 942.7,536 943.6,536.4 944.5,530.7 945.4,530.2 946.3,534.6 947.2,534.7 948,535.3 948.9,529.4 949.5,506.7 950.7,527.1 951.6,528.3 952.5,536.4 953.4,536.2 954.2,528.6 955.1,525.1 956,523.8 956.9,526.6 957.8,535.5 958.7,534.3 959.6,536.1 960.4,536.2 961.3,536.4 962.2,533.4 963.1,526.2 963.5,485 964.9,522.3 965.7,535.7 966.6,532.9 967.5,524.6 968.4,535.5 969.3,536.3 970.2,530.1 971.1,528.6 971.9,528.3 972.8,533.4 973.7,528.4 974.6,535.3 975.5,528.7 976.4,536 977.3,527.3 978.5,492.5 979,524 979.9,535.5 980.8,525.9 981.7,536 982.6,534.3 983.5,528.6 984.3,536 985.2,528.4 986.1,536.3 987,536.3 987.9,535.7 988.8,528.2 989.7,527.6 990.5,535.9 991.4,527.6 992.3,536.1 993.2,532 994.1,535.4 995,535.9 995.9,536 996.7,524.9 997.6,535.7 998.5,536.4 999.4,535.7 1000.3,530.9 1001.2,533.9 1002.1,535.6 1002.9,535.5 1003.8,530.9 1004.7,536 1005.6,529.9 1006.5,532.8 1007.4,529.5 1008.2,534 1009.1,536 1010,535.6 1010.9,535.6 1011.8,529.9 1012.7,524.9 1013.6,536.4 1014.4,536.3 1015.3,536.1 1016.2,534.3 1017.1,527.8 1018,536.4 1018.9,531 1019.8,526.9 1020.6,534.7 1021.5,535.3 1022.4,535.5 1023.3,531.6 1024.2,536 1025.1,526.3 1026,534.8 1026.8,536.1 1027.7,535.8 1028.6,535.3 1029.5,535.4 1030.4,535.8 1031.3,536.4 1032.2,535.8 1033,530.4 1033.9,535.5 1034.8,531.6 1035.7,533.7 1036.6,536.4 1037.5,530.5 1038.4,526.9 1039.5,490 1040.1,523.4 1041,535.8 1041.9,536.1 1042.8,528.1 1043.7,533.6 1044.6,530.1 1045.4,533.8 1046.3,536.1 1047.2,535.3 1048.1,531 1049,535.6 1049.9,533.9 1050.8,535.6 1051.6,536 1052.5,529 1053.5,504 1054.3,526.5 1055.2,525.5 1056.1,535.6 1056.9,536.1 1057.8,535.7 1058.7,535.9 1059.6,536.2 1060.5,529.2 1061.4,532 1062.3,529.5 1063.1,535.6 1064,535.5 1064.9,536.3 1065.8,526.1 1066.7,520.3 1067.6,536.4 1068.5,536.1 1069.3,526.5 1070.2,535.6 1071.1,535.3 1072,529.9 1072.9,534 1073.8,524.9 1074.7,531.2 1075.5,536 1076.4,523.5 1077.3,527.7 1078.2,525 1079.1,525.2 1080,536.3 1080.9,525.4 1081.7,536 1082.6,530.3 1083.5,535.5 1084.4,526.4 1085.3,527.2 1086.2,530.9 1087.5,516.7 1087.9,529.3 1088.8,527.1 1089.7,525 1090.6,535.7 1091.5,523.5 1092.4,536 1093.2,533.6 1094.1,530.5 1095,535.5 1095.9,536.2 1096.8,536.2 1097.7,530.7 1098.6,535.4 1099.4,528.2 1100.3,535.4 1101.2,535.6 1102.1,527.2 1103,535.8 1103.9,532.5 1104.8,536.4 1105.6,530.6 1106.5,533.5 1107.4,536.4 1108.3,533.9 1109.2,535.8 1110.1,536.1 1111,535.9 1111.8,530.3 1112.7,533.3 1113.6,535.6 1114.5,536.3 1115.4,532.5 1116.3,536.4 1117.2,536.1 1118,525.8 1118.9,535.3 1119.8,535.8 1120.7,534.3 1121.6,535.4 1122.5,535.6 1123.4,536.1 1124.2,526.8 1125.1,536.1 1126,535.3 1126.9,533.8 1127.8,536.3 1128.7,535.8 1129.6,536 1130.4,526 1131.3,526.6 1132.2,525.6 1133.1,535.6 1134,536.4 1134.9,535.9 1135.8,536 1136.6,534.6 1137.5,533 1138.4,535.9 1139.3,529.6 1140.2,530.6 1141.1,535.4 1141.9,536 1142.8,534 1143.7,535.7 1144.6,536.3 1145.5,526.4 1146.4,536 1147.3,535.8 1148.1,526.7 1149,526.8 1149.9,536.1 1150.8,535.6 1151.7,536.4 1152.6,535.4 1153.5,532.8 1154.3,535.6 1155.2,534 1156.1,531.1 1157,535.3 1157.9,530.4 1158.5,513.3 1159.7,528.6 1160.5,530.1 1161.4,535.7 1162.3,534 1163.2,536.3 1164.1,524.9 1165,535.9 1165.9,532.2 1166.7,531.7 1167.6,536.4 1168.5,530.1 1169.4,524.9 1170.3,535.6 1171.2,534.6 1172.1,536.2 1172.9,533.6 1173.8,532.1 1174.7,530.7 1175.5,515 1176.5,528.9 1177.4,530.5 1178.2,535.6 1179.1,536.3 1180,528.5 1180.9,533.5 1181.8,535.5 1182.7,535.6 1183.6,524.2 1184.4,536 1185.3,535.3 1186.2,536.2 1187.1,535.3 1188,534.4 1188.9,535.9 1189.8,535.5 1190.6,529.1 1191.5,536.1 1192.4,536.2 1193.3,535.7 1194.2,535.4 1195.1,527.8 1196,535.8 1196.8,523.2 1197.7,536.3 1198.6,525.9 1199.5,531.1 1200.4,535.5 1201.3,536.4 1202.2,531.3 1203,532.3 1203.9,534.6 1204.8,530.7 1205.7,536.1 1206.6,532.9 1207.5,534.1 1208.4,532.4 1209.2,526.8 1210.1,533.5 1211,528.5 1211.9,533.2 1212.8,526.3 1213.7,530.4 1214.6,528.4 1215.4,536.1 1216.3,536.1 1217.2,529.4 1218.5,506.7 1219,527.1 1219.9,535.5 1220.8,535.4 1221.6,536.1 1222.5,520.9 1223.4,520.4 1224.3,526.8 1225.2,524.6 1226.1,535.8 1226.9,527.1 1227.8,535.4 1228.7,529 1229.5,504 1230.5,526.5 1231.4,531.8 1232.3,535.3 1233.1,535.3 1234,532.6 1234.9,532.6 1235.8,525.8 1236.7,535.9 1237.6,529 1238.5,504 1239.3,526.5 1240.2,535.5 1241.1,536 1242,527.3 1242.9,536.2 1243.8,536.2 1244.7,535.6 1245.5,528.3 1246.4,536.4 1247.3,520.8 1248.2,526.4 1249.1,533.3 1250,535.9 1250.9,535.9 1251.7,527.5 1252.6,532.5 1253.5,530.6 1254.4,531.3 1255.3,526.1 1256.2,530.9 1257.1,535.7 1257.9,535.4 1258.8,527.8 1259.7,530.3 1260.6,527.3 1261.5,492.5 1262.4,524 1263.2,535.8 1264.1,527.6 1265,536.2 1265.9,536 1266.8,535.6 1267.7,536.4 1268.6,536.4 1269.4,530.3 1270.3,535.5 1271.2,528.9 1272.1,535.4 1273,530.5 1273.9,531.2 1274.8,531.6 1275.6,534.2 1276.5,535.6 1277.4,529.6 1278.3,536.1 1279.2,530.7 1280.1,535.3 1281,529.4 1281.5,506.5 1282.7,527.1 1283.6,536.4 1284.5,533.1 1285.4,535.4 1286.3,536.1 1287.2,533.1 1288,535.6 1288.9,536.3 1289.8,534.5 1290.7,535.6 1291.6,536.2 1292.5,536.4 1293.4,533.9 1294.2,534.5 1295.1,535.7 1296,533.5 1296.9,535.5 1297.8,532.6 1298.7,536.1 1299.6,534.1 1300.4,530.7 1301.3,535.8 1302.2,536.3 1303.1,534.4 1304,525.1 1304.9,525.4 1305.8,535.7 1306.6,529.4 1307.5,506.5 1308.4,527.1 1309.3,532.8 1310.2,531.8 1311.1,536.4 1311.9,525.3 1312.8,532.3 1313.7,525.2 1314.6,526.6 1315.5,536.1 1316.4,535.9 1317.3,535.5 1318.1,523.4 1319,528.7 1319.9,529 1320.8,527.3 1321.5,492.5 1322.6,524 1323.5,536.2 1324.3,533.3 1325.2,529.8 1326.1,529.3 1327,535.6 1327.9,534.1 1328.8,533.1 1329.7,532.8 1330.5,536.3 1331.4,535.4 1332.3,535.5 1333.2,535.6 1334.1,535.9 1335,536.1 1335.9,535.5 1336.7,535.4 1337.6,529.1 1338.5,535.5 1339.4,536.2 1340.3,530.4 1341.2,527.4 1342.1,531.4 1342.9,536.4 1343.8,534.3 1344.7,536.1 1345.6,534.6 1346.5,536.4 1347.4,524.8 1348.2,534.7 1349.1,535.6 1350,535.6 1350.9,535.4 1351.8,535.8 1352.7,530.7 1353.5,515 1354.4,528.9 1355.3,533.5 1356.2,535.3 1357.1,525.6 1358,532.1 1358.9,536.3 1359.8,526 1360.6,535.4 1361.5,534.4 1362.4,536.2 1363.3,525.7 1364.2,532.7 1365.1,528.2 1366,535.7 1366.8,525.3 1367.7,528 1368.6,535.7 1368.4,536 97.7,535.7 96.3,530.5 97.2,530.8 98,534.5 98.9,536.2 99.8,530.6 100.7,527.1 101.6,535.8 102.5,535.8 103.4,535.3 104.2,530.3 105.1,527 106,532.7 106.9,526 107.8,536 108.7,536.2 109.6,535.7 110.4,536.2 111.3,535.5 112.2,531.7 113.5,522 114,530.5 114.9,535.4 115.8,532.6 116.6,535.3 117.5,526.9 118.4,531.9 119.3,536.4 120.2,536 121.1,535.6 121.9,530.9 122.8,527.1 123.7,533.8 124.6,535.6 125.5,529.3 126.4,528.1 127.3,530.7 128.1,525.8 129,526.5 129.9,525.8 130.8,535.8 131.7,536.2 132.6,529.5 133.5,536.2 134.3,536 135.2,535.6 136.1,536.3 137,531.3 137.5,519 138.8,529.8 139.7,535.9 140.5,535.3 141.4,525.6 142.3,534.2 143.2,533.7 201.8,526.6" fill="none" stroke="#009e73" stroke-width="1" stroke-linejoin="miter"/>
<path d="M200.8,524 201.6,525.6 202.5,527.3 203.4,529 204.3,530.6 205.2,532.3 206.1,522 206.9,522.1 207.8,524.5 208.7,526.6 209.6,528.8 210.5,530.9 211.4,533.1 212.3,535.2 213.1,524.3 214,526.5 214.9,528.6 215.8,530.7 216.7,532.9 217.6,526.4 218.5,530.7 219.3,535 220.2,522.1 221.1,524.7 222,527.4 222.9,530.1 223.8,532.7 224.7,527.4 225.5,532.4 226.4,528.8 227.3,535.1 228.2,525.7 229.1,529.4 230,533.1 230.9,525.7 231.5,517 232.6,523.5 233.5,525.2 234.4,528.1 235.3,530.9 236.2,533.8 237.1,528.1 237.9,533.8 238.8,525.1 239.7,528 240.6,530.8 241.5,533.7 242.4,525.1 243.5,515 244.1,522.6 245,525.1 245.9,527.8 246.8,530.5 247.7,533.2 248.6,522.1 249.4,526.2 250.3,530.3 251.2,534.5 252.1,522.3 253,526.7 253.9,530.9 254.8,535.1 255.6,524.3 256.5,526.1 257.4,528 258.3,529.8 259.2,531.7 260.1,533.5 261,522.5 261.8,522.3 262.7,524.4 263.6,526.5 264.5,528.5 265.4,530.6 266.3,532.7 267.2,534.7 268,522.3 268.9,522.5 269.8,528.4 270.7,534.7 271.6,522.5 272.5,525.8 273.4,529.7 274.2,533.6 275.1,532.9 276,526.1 276.9,530.6 277.8,535.2 278.7,522.4 279.6,524.6 280.4,527 281.3,529.3 282.2,531.7 283.1,534 284,534.2 284.9,522 285.8,522.4 286.6,526.4 287.5,530.1 288.4,533.9 289.3,522.6 290.2,532.9 291.1,522 291.9,525 292.8,528 293.7,530.9 294.6,533.9 295.5,525.9 296.4,529.3 297.3,532.7 298.1,525 299,527.9 299.9,530.8 300.8,533.7 301.7,524.6 302.6,527.1 303.5,529.7 304.3,532.2 305.2,534.7 306.1,535 307,526.1 307.9,530.7 308.8,535.2 309.7,525.5 310.5,528.7 311.4,531.9 312.3,535.1 313.2,533.3 314.1,523.4 315,525.7 315.9,528 316.7,530.3 317.6,532.6 318.5,528.1 319.4,534 320.3,522 321.2,525.7 322.1,529.3 322.9,532.9 323.8,522 324.7,525.5 325.6,528.5 326.5,531.5 327.4,534.6 328.2,532.6 329.1,527.6 330,533 330.9,524.2 331.8,525.8 332.7,527.5 333.6,529.1 334.4,530.7 335.3,532.4 336.2,525.8 337.1,529.3 338,532.8 338.9,524.9 339.8,527.4 340.6,529.9 341.5,532.4 342.4,534.9 343.3,524.3 344.2,526.2 345.1,528.2 346,530.2 346.8,532.1 347.7,534.1 348.6,522 349.5,524.6 350.4,526.7 351.3,528.8 352.2,530.9 353,533 353.9,522.4 354.8,526.9 355.7,533.4 356.6,525.8 357.5,529.6 358.4,533.3 359.2,522.1 360.1,526 361,529.8 361.9,533.6 362.8,526.4 363.7,530.7 364.6,535 365.4,522.4 366.3,525.3 367.2,528.3 368.1,531.4 369,534.4 369.9,522.4 370.8,524.4 371.6,526.6 372.5,528.9 373.4,531.1 374.3,533.3 375.2,522.4 376.1,522.4 376.9,526 377.8,530.1 378.7,534.1 379.6,522.5 380.5,533.1 381.4,524.4 382.3,526.7 383.1,529 384,531.3 384.9,533.6 385.8,524.3 386.7,526.4 387.6,528.4 388.5,530.5 389.3,532.5 390.2,534.6 391.1,533.6 392,522.3 392.9,522 393.8,534.4 394.7,525.4 395.5,528.3 396.4,531.2 397.3,534.1 398.2,523.8 399.1,525.5 400,527.2 400.9,528.9 401.7,530.6 402.6,532.3 403.5,520 404.5,498 405.3,515.9 406.2,528 407.1,533.6 407.9,522.2 408.8,522.4 409.7,526.1 410.6,529.7 411.5,533.3 412.4,522.2 413.2,528.7 414.1,534.9 415,527.1 415.9,533 416.8,522.2 417.7,533.8 418.6,522.3 419.4,533.5 420.3,527.8 421.2,533.5 422.1,522.2 423,525.8 423.9,529.5 424.8,533.1 425.6,522.2 426.5,528.5 427.4,534.8 428.3,525.7 429.2,529 430.1,532.2 431,524.3 431.8,526.1 432.7,527.8 433.6,529.6 434.5,531.3 435.4,533.1 436.3,522.5 437.2,524.3 438,526.4 438.9,528.5 439.8,530.6 440.7,532.8 441.6,534.9 442.5,522 443.4,522.2 444.2,523.6 445.1,525.9 446,528.2 446.9,530.5 447.8,532.8 448.7,535.1 449.6,525.2 450.4,528 451.3,530.7 452.2,533.4 453.1,524.1 454,525.7 454.9,527.4 455.8,529.1 456.6,530.7 457.5,532.4 458.4,525.8 459.3,529 460.2,532.2 461.1,535.5 461.9,524.4 462.8,526.2 463.7,528 464.6,529.8 465.5,531.6 466.4,533.4 467.3,534 468.1,522.5 469,526.2 469.9,530.2 470.8,534.2 471.7,522.5 472.6,535.4 473.5,524.8 474.5,514 475.2,522.2 476.1,525 477,527.6 477.9,530.2 478.8,532.8 479.7,535.4 480.5,524.8 481.4,529.4 482.3,533.9 483.2,524.9 484.1,527.3 485,529.7 485.9,532.1 486.7,534.6 487.6,528.5 488.5,534.8 489.4,522.2 490.3,533.5 491.2,522.5 492.1,524.5 492.9,526.6 493.8,528.6 494.7,530.7 495.6,532.7 496.5,522.5 497.4,522.4 498.2,525.2 499.1,528.5 500,531.7 500.9,534.9 501.8,522.5 502.7,527.7 503.6,533.1 504.4,522.6 505.3,524.3 506.2,526.5 507.1,528.7 508,530.9 508.9,533 509.8,535.2 510.6,525.6 511.5,529.1 512.4,532.7 513.3,525.2 514.2,528.2 515.1,531.3 516,534.3 516.8,524.2 517.7,525.9 518.6,527.7 519.5,529.4 520.4,531.1 521.3,532.8 522.2,532.4 523,522.7 523.9,525.3 524.8,528 525.7,530.7 526.6,533.3 527.5,522.5 528.4,522.2 529.2,524.8 530.1,527.2 531,529.6 531.9,532 532.8,534.3 533.7,528.4 534.6,534.6 535.4,522.4 536.3,523.8 537.2,525.6 538.1,527.3 539,529 539.9,530.8 540.8,532.5 541.6,533.9 542.5,525.1 543.4,528.3 544.3,531.4 545.2,534.6 546.1,522.2 546.9,525.5 547.8,528.9 548.7,532.3 549.6,522.5 550.5,524.9 551.4,527.5 552.3,530.1 553.1,532.6 554,524.9 554.9,527.5 555.8,530.2 556.7,532.8 557.6,525.1 558.5,527.7 559.3,530.3 560.2,532.9 561.1,526.8 562,533 562.9,522.3 563.8,525 564.7,527.5 565.5,525.4 566.5,516 567.3,523 568.2,524.8 569.1,527.3 570,529.8 570.9,532.3 571.7,532.5 572.6,522.5 573.5,522.2 574.4,528 575.3,533.7 576.2,527.6 577.1,533.2 577.9,522.5 578.8,526.6 579.7,530.9 580.6,535.3 581.5,524.2 582.4,527.2 583.2,530.3 584.1,533.3 585,524.2 585.9,526.1 586.8,527.9 587.7,529.8 588.6,531.6 589.4,533.5 590.3,527.2 591.2,532.3 592.1,522.3 593,533.6 593.9,524.9 594.8,527.5 595.6,530 596.5,532.6 597.4,535.1 598.3,526.1 599.2,529.7 600.1,533.3 601,524.7 601.8,527.4 602.7,530 603.6,532.6 604.5,522.4 605.4,526.3 606.3,532.3 607.2,527.6 608,533.1 608.9,532.6 609.8,525.9 610.7,529.2 611.6,532.5 612.5,526.2 613.4,530 614.2,533.9 615.1,525.5 616,528.7 616.9,531.8 617.8,535 618.7,524.1 619.6,525.3 620.5,515.8 621.3,523 622.2,524 623.1,525.7 624,527.3 624.9,529 625.8,530.7 626.6,532.4 627.5,522.5 628.4,522.2 629.3,525.2 630.2,528.1 631.1,531 631.9,534 632.8,525.1 633.7,527.7 634.6,530.4 635.5,533 636.4,525 637.3,527.9 638.1,530.8 639,533.7 639.9,525.6 640.8,529 641.7,532.5 642.6,522.5 643.5,522 644.3,524.2 645.2,525.9 646.1,527.7 647,529.4 647.9,531.2 648.8,532.9 649.7,522.4 650.5,533.6 651.4,526.1 652.3,530.2 653.2,534.3 654.1,522.1 655,526.3 655.9,530.6 656.7,534.9 657.6,524.9 658.5,527.5 659.4,524.6 660.5,513.3 661.2,522 662.1,525 662.9,527.6 663.8,530.3 664.7,532.8 665.6,525.2 666.5,528 667.4,530.7 668.2,533.4 669.1,524.8 670,527.2 670.9,529.6 671.8,532 672.7,534.4 673.6,522.2 674.4,528.7 675.3,535 676.2,524.5 677.1,526.9 678,529.3 678.9,531.7 679.8,534.1 680.6,522.5 681.5,532.8 682.4,524.5 683.3,526.7 684.2,528.9 685.1,531.1 686,533.3 686.8,524.7 687.7,526.9 688.6,529.1 689.5,531.2 690.4,533.4 691.3,528.3 692.2,534.1 693,522.5 693.9,525.7 694.8,529.5 695.7,533.2 696.6,526.1 697.5,530.1 698.4,534.1 699.2,525.8 700.1,529.6 701,533.3 701.9,522.5 702.8,527.5 703.7,532.5 704.6,527.5 705.4,532.9 706.3,522.2 707.2,522.3 708.1,535.2 709,522.3 709.9,525 710.8,527.6 711.6,530.2 712.5,532.7 713.4,524.8 714.3,527.4 715.2,530 716.1,532.6 716.9,534.2 717.8,525.4 718.5,516 719.6,523 720.5,525.8 721.4,529.2 722.3,532.7 723.1,534.5 724,525.4 724.9,528.5 725.8,531.6 726.7,534.7 727.6,522.2 728.5,534.8 729.3,522.2 730.2,528.6 731.1,535.1 732,522.4 732.9,522.1 733.8,526.3 734.7,530.5 735.5,534.7 736.4,524.5 737.3,527.7 738.2,530.9 739.1,534.2 740,522.3 740.9,524.9 741.7,527.6 742.6,530.3 743.5,533.1 744.4,522.2 745.3,522.1 746.2,525.9 747.1,529.5 747.9,533.2 748.8,524.1 749.7,526.1 750.6,528.1 751.5,530.1 752.4,532.1 753.2,534.1 754.1,525.1 755,528 755.9,530.9 756.8,533.9 757.7,522 758.6,524.9 759.4,527.4 760.3,529.8 761.2,532.3 762.1,534.8 763,522.4 763.9,528.6 764.8,535.2 765.6,526.8 766.5,531 767.4,535.2 768.3,525.8 769.2,529.1 770.1,532.4 771,534.4 771.8,522.3 772.7,522.6 773.6,525.6 774.5,528.8 775.4,532.1 776.3,535.3 777.2,533.8 778,522.4 778.9,522.1 779.8,527.2 780.7,534.4 781.6,522.3 782.5,524.6 783.4,527.2 784.2,529.8 785.1,532.4 786,522.3 786.9,522.3 787.8,526.2 788.7,530.1 789.6,534 790.4,522.3 791.3,525.1 792.2,528 793.1,530.9 794,533.8 794.9,524.3 795.8,526.4 796.6,528.5 797.5,530.6 798.4,532.7 799.3,522.2 800.2,525.4 801.5,516 801.9,523 802.8,535.4 803.7,522.6 804.6,523.7 805.5,527 806.4,530.2 807.3,533.5 808.1,535 809,522.5 809.9,528.6 810.8,534.8 811.7,528.6 812.6,534.6 813.5,522.3 814.3,527.5 815.2,532.6 816.1,525.8 817,529.3 817.9,532.7 818.8,522.1 819.7,533 820.5,525.2 821.4,528.2 822.3,531.3 823.2,534.4 824.1,522.1 825,522.2 825.9,526.4 826.7,530.5 827.6,534.7 828.5,522.4 829.4,522.3 830.3,525.1 831.2,527.7 832.1,530.3 832.9,533 833.8,522 834.7,522.5 835.6,524 836.5,525.7 837.4,527.4 838.2,529.1 839.1,530.7 840,532.4 840.9,522.5 841.8,525.7 842.7,529.1 843.6,532.6 844.4,524.6 845.3,527.2 846.2,529.8 847.1,532.4 848,535 848.9,525.2 849.8,528.3 850.6,531.5 851.5,534.6 852.4,522.6 853.3,528.3 854.2,534.1 855.1,525.5 856,529 856.8,532.6 857.7,522.2 858.6,522.3 859.5,525.8 860.4,529.1 861.3,532.4 862.2,522.5 863,524.3 863.9,526.3 864.8,528.3 865.7,530.3 866.6,532.3 867.5,534.3 868.4,528.4 869.2,534.6 870.1,534.6 871,524 871.9,525.8 872.8,527.6 873.7,529.5 874.6,531.3 875.4,533.1 876.3,525.5 877.2,528.5 878.1,531.6 879,534.6 879.9,524.1 880.8,527.5 881.6,530.9 882.5,534.3 883.4,528.6 884.3,535.1 885.2,525.8 886.1,529.3 886.9,532.7 887.8,527.6 888.7,532.6 889.6,522.6 890.5,522.3 891.4,527.2 892.3,532.3 893.1,522.4 894,527.7 894.9,533 895.8,522.5 896.7,522.5 897.6,527.4 898.5,532.6 899.3,528.8 900.2,535.1 901.1,528.8 902,535.2 902.9,533.4 903.8,526.3 904.7,530.4 905.5,534.4 906.4,522.5 907.3,525.3 908.2,530.4 909.1,535.5 910,535 910.9,527.5 911.7,532.5 912.6,525.4 913.5,528.6 914.4,531.8 915.3,535.1 916.2,535.2 917.1,522 917.9,528.7 918.8,535.3 919.7,525.7 920.6,529.3 921.5,532.9 922.4,524.7 923.2,520.1 924.5,498.3 925,516 925.9,524.5 926.8,526.7 927.7,528.9 928.6,531.1 929.4,533.2 930.3,533.4 931.2,522.5 932.1,522.5 933,528.2 933.9,534.3 934.8,522.5 935.6,528.1 936.5,534.3 937.4,527.5 938.3,533 939.2,522.6 940.1,522.5 941,524.7 941.8,527 942.7,529.3 943.6,531.6 944.5,533.9 945.4,525.8 946.3,529.4 947.2,532.9 948,524.2 948.9,526.4 949.8,528.5 950.7,530.7 951.6,532.9 952.5,524.3 953.4,526.2 954.2,528.1 955.1,530 956,531.9 956.9,533.8 957.8,525.5 958.7,528.7 959.6,531.9 960.4,535.1 961.3,528.2 962.2,534 963.1,522.2 964,524.3 964.9,526.4 965.7,528.5 966.6,530.5 967.5,532.6 968.4,522.1 969.3,522.2 970.2,524.1 971.1,526.2 971.9,528.3 972.8,530.3 973.7,532.4 974.6,534.5 975.5,528.6 976.4,534.5 977.3,526.1 978.1,529.6 979,533.2 979.9,522 980.8,524.7 981.7,527.3 982.6,529.9 983.5,532.5 984.3,522.1 985.2,524.4 986.1,526.4 987,521.6 987.5,503.3 988.8,518 989.7,524.4 990.5,526.4 991.4,528.4 992.3,530.4 993.2,532.4 994.1,522.3 995,533.5 995.9,524.6 996.7,526.6 997.6,528.6 998.5,530.6 999.4,532.6 1000.3,534.6 1001.2,526.2 1002.1,530.5 1002.9,534.7 1003.8,522.5 1004.7,525.1 1005.6,528 1006.5,531 1007.4,534 1008.2,535.4 1009.1,522.1 1010,533.3 1010.9,522.5 1011.8,526.1 1012.7,530.1 1013.6,534.2 1014.4,522.5 1015.3,522.4 1016.2,525.6 1017.1,528.8 1018,532 1018.9,535.2 1019.8,522.2 1020.6,525.1 1021.5,527.7 1022.4,530.3 1023.3,533 1024.2,526.4 1025.1,530.5 1026,534.6 1026.8,522.5 1027.7,522.1 1028.6,534.7 1029.5,522.5 1030.4,524.9 1031.3,527.6 1032.2,530.3 1033,533 1033.9,528.8 1034.8,535.1 1035.7,535 1036.6,522 1037.5,525.2 1038.4,528.1 1039.2,531 1040.1,533.9 1041,526.9 1041.9,533.5 1042.8,524.2 1043.7,526 1044.6,527.9 1045.4,529.8 1046.3,531.7 1047.2,533.5 1048.1,522.4 1049,526.1 1049.9,529.9 1050.8,533.7 1051.6,528.5 1052.5,534.5 1053.4,524.2 1054.3,526 1055.2,527.8 1056.1,529.6 1056.9,531.4 1057.8,533.1 1058.7,527.6 1059.6,533 1060.5,522.2 1061.4,522.5 1062.3,525 1063.1,527.6 1064,530.2 1064.9,532.8 1065.8,535.3 1066.7,526.5 1067.6,530.9 1068.5,535.3 1069.3,524.6 1070.2,526.7 1071.1,528.9 1072,531 1072.9,533.2 1073.8,522.2 1074.7,525 1075.5,528 1076.4,531 1077.3,533.9 1078.2,523 1079.1,525.5 1080,527.9 1080.9,530.4 1081.7,532.9 1082.6,519.2 1083.5,495.3 1084.4,514.8 1085.3,522.4 1086.2,527.4 1087.1,532.5 1087.9,522.3 1088.8,522.2 1089.7,526.4 1090.6,530.6 1091.5,534.7 1092.4,534.4 1093.2,522.4 1094.1,524.8 1095,527.3 1095.9,529.8 1096.8,532.3 1097.7,534.9 1098.6,522.1 1099.4,522.2 1100.3,533.1 1101.2,522.5 1102.1,522.2 1103,525.4 1103.9,528.6 1104.8,531.8 1105.6,535 1106.5,522.4 1107.4,522.6 1108.3,526.4 1109.2,530.4 1110.1,534.4 1111,524.5 1111.8,526.5 1112.7,528.5 1113.6,530.5 1114.5,532.5 1115.4,528.7 1116.3,534.9 1117.2,522.1 1118,525.3 1118.9,528.4 1119.8,531.4 1120.7,534.5 1121.6,525.5 1122.5,528.5 1123.4,531.4 1124.2,534.4 1125.1,522.4 1126,533.3 1126.9,525.2 1127.8,528.8 1128.7,532.4 1129.6,528.4 1130.4,534.5 1131.3,527.7 1132.2,532.9 1133.1,524.2 1134,526.2 1134.9,528.3 1135.8,530.3 1136.6,532.3 1137.5,534.3 1138.4,535.4 1139.3,522 1140.2,528 1141.1,534.2 1141.9,522.4 1142.8,525.2 1143.7,528.4 1144.6,531.5 1145.5,534.7 1146.4,526.8 1147.3,531 1148.1,535.3 1149,522.3 1149.9,522.4 1150.8,526.6 1151.7,532.9 1152.6,522.4 1153.5,525.7 1154.3,529.2 1155.2,532.8 1156.1,522.4 1157,535 1157.9,522 1158.8,527.1 1159.7,533.9 1160.5,522.5 1161.4,526.5 1162.3,530.5 1163.2,534.6 1164.1,533.4 1165,524.9 1165.9,527.5 1166.7,530.1 1167.6,532.6 1168.5,535.2 1169.4,522.6 1170.3,522.4 1171.2,526.3 1172.1,530.5 1172.9,534.7 1173.8,522 1174.7,527.5 1175.6,532.9 1176.5,525.4 1177.4,528.8 1178.2,532.1 1179.1,535.4 1180,522.4 1180.9,522.2 1181.8,528.1 1182.7,533.8 1183.6,524.5 1184.4,527 1185.3,529.5 1186.2,532 1187.1,534.5 1188,526.1 1188.9,519.1 1189.5,495 1190.6,514.6 1191.5,526.2 1192.4,530.1 1193.3,533.8 1194.2,527.6 1195.1,532.8 1196,522.4 1196.8,522.1 1197.7,524.9 1198.6,527.5 1199.5,530.1 1200.4,532.7 1201.3,522.3 1202.2,522.4 1203,524.5 1203.9,526.3 1204.5,519 1205.7,524.2 1206.6,524.7 1207.5,527 1208.4,529.4 1209.2,531.7 1210.1,533.9 1211,526.4 1211.9,530.8 1212.8,535.2 1213.7,522.1 1214.6,522.1 1215.4,525.1 1216.3,528.1 1217.2,531.1 1218.1,534 1219,528.9 1219.9,535.4 1220.8,525.1 1221.6,528.1 1222.5,531.1 1223.4,534 1224.3,522 1225.2,524.8 1226.1,527.3 1226.9,529.7 1227.8,532.2 1228.7,527.9 1229.6,533.4 1230.5,522.4 1231.4,522.5 1232.3,525.3 1233.1,528.6 1234,531.8 1234.9,535.1 1235.8,525 1236.7,527.6 1237.6,530.2 1238.5,532.8 1239.3,535.3 1240.2,525.1 1241.1,527.6 1242,530.1 1242.9,532.6 1243.8,535.1 1244.7,522.3 1245.5,526.4 1246.4,530.1 1247.3,533.9 1248.2,522 1249.1,535 1250,527.4 1250.9,525.1 1251.5,515 1252.6,522.6 1253.5,527.5 1254.4,532.5 1255.3,525.7 1256.2,528.8 1257.1,532 1257.9,535.2 1258.8,524.9 1259.7,527.6 1260.6,530.3 1261.5,533 1262.4,522.3 1263.2,528.3 1264.1,534.1 1265,526.4 1265.9,530.5 1266.8,534.5 1267.7,522.1 1268.6,522.2 1269.4,525.5 1270.3,528.4 1271.2,531.3 1272.1,534.2 1273,532.5 1273.9,525.1 1274.8,528 1275.6,530.9 1276.5,533.9 1277.4,526.4 1278.3,530.7 1279.2,535 1280.1,522.2 1281,522.1 1281.8,525.2 1282.7,528.1 1283.6,531 1284.5,533.9 1285.4,525.6 1286.3,529.1 1287.2,532.6 1288,522.3 1288.9,534.8 1289.8,522.2 1290.7,532.7 1291.6,522.5 1292.5,524.7 1293.4,527.3 1294.2,529.9 1295.1,532.6 1296,522.5 1296.9,524.4 1297.8,526.5 1298.7,528.5 1299.6,530.6 1300.4,532.6 1301.3,534.6 1302.2,524.8 1303.1,527.4 1304,530 1304.9,532.6 1305.8,526.5 1306.6,530.6 1307.5,534.6 1308.4,522 1309.3,526.7 1310.2,530.9 1311.1,535 1311.9,525.2 1312.8,528.3 1313.7,531.3 1314.6,534.4 1315.5,522.1 1316.4,525.7 1317.3,529.1 1318.1,532.4 1319,522.1 1319.9,524 1320.8,526 1321.7,527.9 1322.6,529.9 1323.5,531.8 1324.3,533.8 1325.2,532.7 1326.1,522.3 1327,525 1327.9,528 1328.8,531 1329.7,534 1330.5,522.2 1331.4,522.2 1332.3,532.2 1333.2,526.3 1334.1,530.5 1335,534.6 1335.9,525.1 1336.7,515.6 1337.5,483.3 1338.5,510 1339.4,527 1340.3,531.6 1341.2,534.4 1342.1,522.2 1342.9,528.3 1343.8,534.2 1344.7,528.2 1345.6,534.3 1346.5,522.1 1347.4,522.2 1348.2,519.5 1349.5,496.3 1350,515.2 1350.9,524.4 1351.8,526.5 1352.7,528.6 1353.6,530.7 1354.4,532.8 1355.3,527.2 1356.2,532.4 1357.1,528.1 1358,535.4 1358.9,524.9 1359.8,527.4 1360.6,529.9 1361.5,532.5 1362.4,522.2 1363.3,525.9 1364.2,529.5 1365.1,533.1 1366,528.3 1366.8,534.3 1367.7,525.7 1368.6,528.9 1365.2,522.5 96.1,522.5 96.3,532.1 97.2,535.3 98,522.4 98.9,527.8 99.8,533.5 100.7,522.6 101.6,525.4 102.5,528.6 103.4,531.8 104.2,535 105.1,527.8 106,533.2 106.9,522.5 107.8,525.7 108.7,528.8 109.6,532 110.4,535.1 111.3,525.5 112.2,528.6 113.1,531.7 114,534.8 114.9,522.5 115.8,524.3 116.6,526.3 117.5,528.2 118.4,530.2 119.3,532.2 120.2,534.2 121.1,522.3 121.9,525.6 122.8,526.3 123.5,519 124.6,524.2 125.5,511.7 126.4,521.3 127.3,526 128.1,529.6 129,532.9 129.9,532.9 130.8,522.3 131.7,525.6 132.6,529 133.5,532.4 134.3,526.5 135.5,519.5 136.1,524.5 137,522.3 137.9,524.8 138.8,527.3 139.7,529.8 140.5,532.3 141.4,534.8 142.3,524.6 143.2,526.7" fill="none" stroke="#56b4e9" stroke-width="1" stroke-linejoin="miter"/>
<g id="pts">
<rect x="194.5" y="427.5" width="12" height="12" fill="none" stroke="#e69f00" stroke-width="1"/>
<rect x="114" y="481" width="13" height="13" fill="#f0e442"/>
<rect x="194" y="481" width="13" height="13" fill="#f0e442"/>
<rect x="316" y="481" width="13" height="13" fill="#f0e442"/>
<rect x="801" y="481" width="13" height="13" fill="#f0e442"/>
<rect x="1062" y="481" width="13" height="13" fill="#f0e442"/>
<rect x="1215" y="481" width="13" height="13" fill="#f0e442"/>
<path d="M94.1,486.5L98.9,486.5L101.5,489.1L101.5,493.9L98.9,496.5L94.1,496.5L91.5,493.9L91.5,489.1Z" fill="none" stroke="#0072b2" stroke-width="1"/><path d="M96.5,486V485M96.5,497V498M91,491.5H90M102,491.5H103" stroke="#0072b2" stroke-width="1" fill="none"/>
<path d="M141.1,474.5L145.9,474.5L148.5,477.1L148.5,481.9L145.9,484.5L141.1,484.5L138.5,481.9L138.5,477.1Z" fill="none" stroke="#0072b2" stroke-width="1"/><path d="M143.5,474V473M143.5,485V486M138,479.5H137M149,479.5H150" stroke="#0072b2" stroke-width="1" fill="none"/>
<path d="M200.1,489.5L204.9,489.5L207.5,492.1L207.5,496.9L204.9,499.5L200.1,499.5L197.5,496.9L197.5,492.1Z" fill="none" stroke="#0072b2" stroke-width="1"/><path d="M202.5,489V488M202.5,500V501M197,494.5H196M208,494.5H209" stroke="#0072b2" stroke-width="1" fill="none"/>
<path d="M247.1,477.5L251.9,477.5L254.5,480.1L254.5,484.9L251.9,487.5L247.1,487.5L244.5,484.9L244.5,480.1Z" fill="none" stroke="#0072b2" stroke-width="1"/><path d="M249.5,477V476M249.5,488V489M244,482.5H243M255,482.5H256" stroke="#0072b2" stroke-width="1" fill="none"/>
<path d="M253.1,489.5L257.9,489.5L260.5,492.1L260.5,496.9L257.9,499.5L253.1,499.5L250.5,496.9L250.5,492.1Z" fill="none" stroke="#0072b2" stroke-width="1"/><path d="M255.5,489V488M255.5,500V501M250,494.5H249M261,494.5H262" stroke="#0072b2" stroke-width="1" fill="none"/>
<path d="M300.1,492.5L304.9,492.5L307.5,495.1L307.5,499.9L304.9,502.5L300.1,502.5L297.5,499.9L297.5,495.1Z" fill="none" stroke="#0072b2" stroke-width="1"/><path d="M302.5,492V491M302.5,503V504M297,497.5H296M308,497.5H309" stroke="#0072b2" stroke-width="1" fill="none"/>
<path d="M306.1,492.5L310.9,492.5L313.5,495.1L313.5,499.9L310.9,502.5L306.1,502.5L303.5,499.9L303.5,495.1Z" fill="none" stroke="#0072b2" stroke-width="1"/><path d="M308.5,492V491M308.5,503V504M303,497.5H302M314,497.5H315" stroke="#0072b2" stroke-width="1" fill="none"/>
<path d="M353.1,489.5L357.9,489.5L360.5,492.1L360.5,496.9L357.9,499.5L353.1,499.5L350.5,496.9L350.5,492.1Z" fill="none" stroke="#0072b2" stroke-width="1"/><path d="M355.5,489V488M355.5,500V501M350,494.5H349M361,494.5H362" stroke="#0072b2" stroke-width="1" fill="none"/>
<path d="M359.1,495.5L363.9,495.5L366.5,498.1L366.5,502.9L363.9,505.5L359.1,505.5L356.5,502.9L356.5,498.1Z" fill="none" stroke="#0072b2" stroke-width="1"/><path d="M361.5,495V494M361.5,506V507M356,500.5H355M367,500.5H368" stroke="#0072b2" stroke-width="1" fill="none"/>
<path d="M406.1,490.5L410.9,490.5L413.5,493.1L413.5,497.9L410.9,500.5L406.1,500.5L403.5,497.9L403.5,493.1Z" fill="none" stroke="#0072b2" stroke-width="1"/><path d="M408.5,490V489M408.5,501V502M403,495.5H402M414,495.5H415" stroke="#0072b2" stroke-width="1" fill="none"/>
<path d="M413.1,492.5L417.9,492.5L420.5,495.1L420.5,499.9L417.9,502.5L413.1,502.5L410.5,499.9L410.5,495.1Z" fill="none" stroke="#0072b2" stroke-width="1"/><path d="M415.5,492V491M415.5,503V504M410,497.5H409M421,497.5H422" stroke="#0072b2" stroke-width="1" fill="none"/>
<path d="M459.1,484.5L463.9,484.5L466.5,487.1L466.5,491.9L463.9,494.5L459.1,494.5L456.5,491.9L456.5,487.1Z" fill="none" stroke="#0072b2" stroke-width="1"/><path d="M461.5,484V483M461.5,495V496M456,489.5H455M467,489.5H468" stroke="#0072b2" stroke-width="1" fill="none"/>
<path d="M466.1,492.5L470.9,492.5L473.5,495.1L473.5,499.9L470.9,502.5L466.1,502.5L463.5,499.9L463.5,495.1Z" fill="none" stroke="#0072b2" stroke-width="1"/><path d="M468.5,492V491M468.5,503V504M463,497.5H462M474,497.5H475" stroke="#0072b2" stroke-width="1" fill="none"/>
<path d="M513.1,488.5L517.9,488.5L520.5,491.1L520.5,495.9L517.9,498.5L513.1,498.5L510.5,495.9L510.5,491.1Z" fill="none" stroke="#0072b2" stroke-width="1"/><path d="M515.5,488V487M515.5,499V500M510,493.5H509M521,493.5H522" stroke="#0072b2" stroke-width="1" fill="none"/>
<path d="M519.1,488.5L523.9,488.5L526.5,491.1L526.5,495.9L523.9,498.5L519.1,498.5L516.5,495.9L516.5,491.1Z" fill="none" stroke="#0072b2" stroke-width="1"/><path d="M521.5,488V487M521.5,499V500M516,493.5H515M527,493.5H528" stroke="#0072b2" stroke-width="1" fill="none"/>
<path d="M566.1,479.5L570.9,479.5L573.5,482.1L573.5,486.9L570.9,489.5L566.1,489.5L563.5,486.9L563.5,482.1Z" fill="none" stroke="#0072b2" stroke-width="1"/><path d="M568.5,479V478M568.5,490V491M563,484.5H562M574,484.5H575" stroke="#0072b2" stroke-width="1" fill="none"/>
<path d="M572.1,493.5L576.9,493.5L579.5,496.1L579.5,500.9L576.9,503.5L572.1,503.5L569.5,500.9L569.5,496.1Z" fill="none" stroke="#0072b2" stroke-width="1"/><path d="M574.5,493V492M574.5,504V505M569,498.5H568M580,498.5H581" stroke="#0072b2" stroke-width="1" fill="none"/>
<path d="M619.1,487.5L623.9,487.5L626.5,490.1L626.5,494.9L623.9,497.5L619.1,497.5L616.5,494.9L616.5,490.1Z" fill="none" stroke="#0072b2" stroke-width="1"/><path d="M621.5,487V486M621.5,498V499M616,492.5H615M627,492.5H628" stroke="#0072b2" stroke-width="1" fill="none"/>
<path d="M625.1,495.5L629.9,495.5L632.5,498.1L632.5,502.9L629.9,505.5L625.1,505.5L622.5,502.9L622.5,498.1Z" fill="none" stroke="#0072b2" stroke-width="1"/><path d="M627.5,495V494M627.5,506V507M622,500.5H621M633,500.5H634" stroke="#0072b2" stroke-width="1" fill="none"/>
<path d="M672.1,489.5L676.9,489.5L679.5,492.1L679.5,496.9L676.9,499.5L672.1,499.5L669.5,496.9L669.5,492.1Z" fill="none" stroke="#0072b2" stroke-width="1"/><path d="M674.5,489V488M674.5,500V501M669,494.5H668M680,494.5H681" stroke="#0072b2" stroke-width="1" fill="none"/>
<path d="M678.1,494.5L682.9,494.5L685.5,497.1L685.5,501.9L682.9,504.5L678.1,504.5L675.5,501.9L675.5,497.1Z" fill="none" stroke="#0072b2" stroke-width="1"/><path d="M680.5,494V493M680.5,505V506M675,499.5H674M686,499.5H687" stroke="#0072b2" stroke-width="1" fill="none"/>
<path d="M725.1,492.5L729.9,492.5L732.5,495.1L732.5,499.9L729.9,502.5L725.1,502.5L722.5,499.9L722.5,495.1Z" fill="none" stroke="#0072b2" stroke-width="1"/><path d="M727.5,492V491M727.5,503V504M722,497.5H721M733,497.5H734" stroke="#0072b2" stroke-width="1" fill="none"/>
<path d="M731.1,489.5L735.9,489.5L738.5,492.1L738.5,496.9L735.9,499.5L731.1,499.5L728.5,496.9L728.5,492.1Z" fill="none" stroke="#0072b2" stroke-width="1"/><path d="M733.5,489V488M733.5,500V501M728,494.5H727M739,494.5H740" stroke="#0072b2" stroke-width="1" fill="none"/>
<path d="M778.1,490.5L782.9,490.5L785.5,493.1L785.5,497.9L782.9,500.5L778.1,500.5L775.5,497.9L775.5,493.1Z" fill="none" stroke="#0072b2" stroke-width="1"/><path d="M780.5,490V489M780.5,501V502M775,495.5H774M786,495.5H787" stroke="#0072b2" stroke-width="1" fill="none"/>
<path d="M784.1,493.5L788.9,493.5L791.5,496.1L791.5,500.9L788.9,503.5L784.1,503.5L781.5,500.9L781.5,496.1Z" fill="none" stroke="#0072b2" stroke-width="1"/><path d="M786.5,493V492M786.5,504V505M781,498.5H780M792,498.5H793" stroke="#0072b2" stroke-width="1" fill="none"/>
<path d="M831.1,489.5L835.9,489.5L838.5,492.1L838.5,496.9L835.9,499.5L831.1,499.5L828.5,496.9L828.5,492.1Z" fill="none" stroke="#0072b2" stroke-width="1"/><path d="M833.5,489V488M833.5,500V501M828,494.5H827M839,494.5H840" stroke="#0072b2" stroke-width="1" fill="none"/>
<path d="M838.1,492.5L842.9,492.5L845.5,495.1L845.5,499.9L842.9,502.5L838.1,502.5L835.5,499.9L835.5,495.1Z" fill="none" stroke="#0072b2" stroke-width="1"/><path d="M840.5,492V491M840.5,503V504M835,497.5H834M846,497.5H847" stroke="#0072b2" stroke-width="1" fill="none"/>
<path d="M883.1,477.5L887.9,477.5L890.5,480.1L890.5,484.9L887.9,487.5L883.1,487.5L880.5,484.9L880.5,480.1Z" fill="none" stroke="#0072b2" stroke-width="1"/><path d="M885.5,477V476M885.5,488V489M880,482.5H879M891,482.5H892" stroke="#0072b2" stroke-width="1" fill="none"/>
<path d="M891.1,491.5L895.9,491.5L898.5,494.1L898.5,498.9L895.9,501.5L891.1,501.5L888.5,498.9L888.5,494.1Z" fill="none" stroke="#0072b2" stroke-width="1"/><path d="M893.5,491V490M893.5,502V503M888,496.5H887M899,496.5H900" stroke="#0072b2" stroke-width="1" fill="none"/>
<path d="M938.1,489.5L942.9,489.5L945.5,492.1L945.5,496.9L942.9,499.5L938.1,499.5L935.5,496.9L935.5,492.1Z" fill="none" stroke="#0072b2" stroke-width="1"/><path d="M940.5,489V488M940.5,500V501M935,494.5H934M946,494.5H947" stroke="#0072b2" stroke-width="1" fill="none"/>
<path d="M944.1,493.5L948.9,493.5L951.5,496.1L951.5,500.9L948.9,503.5L944.1,503.5L941.5,500.9L941.5,496.1Z" fill="none" stroke="#0072b2" stroke-width="1"/><path d="M946.5,493V492M946.5,504V505M941,498.5H940M952,498.5H953" stroke="#0072b2" stroke-width="1" fill="none"/>
<path d="M991.1,488.5L995.9,488.5L998.5,491.1L998.5,495.9L995.9,498.5L991.1,498.5L988.5,495.9L988.5,491.1Z" fill="none" stroke="#0072b2" stroke-width="1"/><path d="M993.5,488V487M993.5,499V500M988,493.5H987M999,493.5H1000" stroke="#0072b2" stroke-width="1" fill="none"/>
<path d="M997.1,492.5L1001.9,492.5L1004.5,495.1L1004.5,499.9L1001.9,502.5L997.1,502.5L994.5,499.9L994.5,495.1Z" fill="none" stroke="#0072b2" stroke-width="1"/><path d="M999.5,492V491M999.5,503V504M994,497.5H993M1005,497.5H1006" stroke="#0072b2" stroke-width="1" fill="none"/>
<path d="M1044.1,487.5L1048.9,487.5L1051.5,490.1L1051.5,494.9L1048.9,497.5L1044.1,497.5L1041.5,494.9L1041.5,490.1Z" fill="none" stroke="#0072b2" stroke-width="1"/><path d="M1046.5,487V486M1046.5,498V499M1041,492.5H1040M1052,492.5H1053" stroke="#0072b2" stroke-width="1" fill="none"/>
<path d="M1050.1,492.5L1054.9,492.5L1057.5,495.1L1057.5,499.9L1054.9,502.5L1050.1,502.5L1047.5,499.9L1047.5,495.1Z" fill="none" stroke="#0072b2" stroke-width="1"/><path d="M1052.5,492V491M1052.5,503V504M1047,497.5H1046M1058,497.5H1059" stroke="#0072b2" stroke-width="1" fill="none"/>
<path d="M1097.1,481.5L1101.9,481.5L1104.5,484.1L1104.5,488.9L1101.9,491.5L1097.1,491.5L1094.5,488.9L1094.5,484.1Z" fill="none" stroke="#0072b2" stroke-width="1"/><path d="M1099.5,481V480M1099.5,492V493M1094,486.5H1093M1105,486.5H1106" stroke="#0072b2" stroke-width="1" fill="none"/>
<path d="M1103.1,492.5L1107.9,492.5L1110.5,495.1L1110.5,499.9L1107.9,502.5L1103.1,502.5L1100.5,499.9L1100.5,495.1Z" fill="none" stroke="#0072b2" stroke-width="1"/><path d="M1105.5,492V491M1105.5,503V504M1100,497.5H1099M1111,497.5H1112" stroke="#0072b2" stroke-width="1" fill="none"/>
<path d="M1150.1,488.5L1154.9,488.5L1157.5,491.1L1157.5,495.9L1154.9,498.5L1150.1,498.5L1147.5,495.9L1147.5,491.1Z" fill="none" stroke="#0072b2" stroke-width="1"/><path d="M1152.5,488V487M1152.5,499V500M1147,493.5H1146M1158,493.5H1159" stroke="#0072b2" stroke-width="1" fill="none"/>
<path d="M1156.1,489.5L1160.9,489.5L1163.5,492.1L1163.5,496.9L1160.9,499.5L1156.1,499.5L1153.5,496.9L1153.5,492.1Z" fill="none" stroke="#0072b2" stroke-width="1"/><path d="M1158.5,489V488M1158.5,500V501M1153,494.5H1152M1164,494.5H1165" stroke="#0072b2" stroke-width="1" fill="none"/>
<path d="M1203.1,489.5L1207.9,489.5L1210.5,492.1L1210.5,496.9L1207.9,499.5L1203.1,499.5L1200.5,496.9L1200.5,492.1Z" fill="none" stroke="#0072b2" stroke-width="1"/><path d="M1205.5,489V488M1205.5,500V501M1200,494.5H1199M1211,494.5H1212" stroke="#0072b2" stroke-width="1" fill="none"/>
<path d="M1209.1,493.5L1213.9,493.5L1216.5,496.1L1216.5,500.9L1213.9,503.5L1209.1,503.5L1206.5,500.9L1206.5,496.1Z" fill="none" stroke="#0072b2" stroke-width="1"/><path d="M1211.5,493V492M1211.5,504V505M1206,498.5H1205M1217,498.5H1218" stroke="#0072b2" stroke-width="1" fill="none"/>
<path d="M1256.1,487.5L1260.9,487.5L1263.5,490.1L1263.5,494.9L1260.9,497.5L1256.1,497.5L1253.5,494.9L1253.5,490.1Z" fill="none" stroke="#0072b2" stroke-width="1"/><path d="M1258.5,487V486M1258.5,498V499M1253,492.5H1252M1264,492.5H1265" stroke="#0072b2" stroke-width="1" fill="none"/>
<path d="M1263.1,489.5L1267.9,489.5L1270.5,492.1L1270.5,496.9L1267.9,499.5L1263.1,499.5L1260.5,496.9L1260.5,492.1Z" fill="none" stroke="#0072b2" stroke-width="1"/><path d="M1265.5,489V488M1265.5,500V501M1260,494.5H1259M1271,494.5H1272" stroke="#0072b2" stroke-width="1" fill="none"/>
<path d="M1309.1,472.5L1313.9,472.5L1316.5,475.1L1316.5,479.9L1313.9,482.5L1309.1,482.5L1306.5,479.9L1306.5,475.1Z" fill="none" stroke="#0072b2" stroke-width="1"/><path d="M1311.5,472V471M1311.5,483V484M1306,477.5H1305M1317,477.5H1318" stroke="#0072b2" stroke-width="1" fill="none"/>
<path d="M1316.1,489.5L1320.9,489.5L1323.5,492.1L1323.5,496.9L1320.9,499.5L1316.1,499.5L1313.5,496.9L1313.5,492.1Z" fill="none" stroke="#0072b2" stroke-width="1"/><path d="M1318.5,489V488M1318.5,500V501M1313,494.5H1312M1324,494.5H1325" stroke="#0072b2" stroke-width="1" fill="none"/>
<path d="M1363.1,491.5L1367.9,491.5L1370.5,494.1L1370.5,498.9L1367.9,501.5L1363.1,501.5L1360.5,498.9L1360.5,494.1Z" fill="none" stroke="#0072b2" stroke-width="1"/><path d="M1365.5,491V490M1365.5,502V503M1360,496.5H1359M1371,496.5H1372" stroke="#0072b2" stroke-width="1" fill="none"/>
<path d="M93.8,529L99.2,529L102,531.8L102,537.2L99.2,540L93.8,540L91,537.2L91,531.8Z" fill="#e51e10"/><path d="M96.5,529V528M96.5,540V541M91,534.5H90M102,534.5H103" stroke="#e51e10" stroke-width="1" fill="none"/>
<path d="M140.8,530L146.2,530L149,532.8L149,538.2L146.2,541L140.8,541L138,538.2L138,532.8Z" fill="#e51e10"/><path d="M143.5,530V529M143.5,541V542M138,535.5H137M149,535.5H150" stroke="#e51e10" stroke-width="1" fill="none"/>
<path d="M199.8,531L205.2,531L208,533.8L208,539.2L205.2,542L199.8,542L197,539.2L197,533.8Z" fill="#e51e10"/><path d="M202.5,531V530M202.5,542V543M197,536.5H196M208,536.5H209" stroke="#e51e10" stroke-width="1" fill="none"/>
<path d="M246.8,531L252.2,531L255,533.8L255,539.2L252.2,542L246.8,542L244,539.2L244,533.8Z" fill="#e51e10"/><path d="M249.5,531V530M249.5,542V543M244,536.5H243M255,536.5H256" stroke="#e51e10" stroke-width="1" fill="none"/>
<path d="M252.8,531L258.2,531L261,533.8L261,539.2L258.2,542L252.8,542L250,539.2L250,533.8Z" fill="#e51e10"/><path d="M255.5,531V530M255.5,542V543M250,536.5H249M261,536.5H262" stroke="#e51e10" stroke-width="1" fill="none"/>
<path d="M299.8,530L305.2,530L308,532.8L308,538.2L305.2,541L299.8,541L297,538.2L297,532.8Z" fill="#e51e10"/><path d="M302.5,530V529M302.5,541V542M297,535.5H296M308,535.5H309" stroke="#e51e10" stroke-width="1" fill="none"/>
<path d="M305.8,530L311.2,530L314,532.8L314,538.2L311.2,541L305.8,541L303,538.2L303,532.8Z" fill="#e51e10"/><path d="M308.5,530V529M308.5,541V542M303,535.5H302M314,535.5H315" stroke="#e51e10" stroke-width="1" fill="none"/>
<path d="M352.8,528L358.2,528L361,530.8L361,536.2L358.2,539L352.8,539L350,536.2L350,530.8Z" fill="#e51e10"/><path d="M355.5,528V527M355.5,539V540M350,533.5H349M361,533.5H362" stroke="#e51e10" stroke-width="1" fill="none"/>
<path d="M358.8,530L364.2,530L367,532.8L367,538.2L364.2,541L358.8,541L356,538.2L356,532.8Z" fill="#e51e10"/><path d="M361.5,530V529M361.5,541V542M356,535.5H355M367,535.5H368" stroke="#e51e10" stroke-width="1" fill="none"/>
<path d="M405.8,533L411.2,533L414,535.8L414,541.2L411.2,544L405.8,544L403,541.2L403,535.8Z" fill="#e51e10"/><path d="M408.5,533V532M408.5,544V545M403,538.5H402M414,538.5H415" stroke="#e51e10" stroke-width="1" fill="none"/>
<path d="M412.8,531L418.2,531L421,533.8L421,539.2L418.2,542L412.8,542L410,539.2L410,533.8Z" fill="#e51e10"/><path d="M415.5,531V530M415.5,542V543M410,536.5H409M421,536.5H422" stroke="#e51e10" stroke-width="1" fill="none"/>
<path d="M458.8,532L464.2,532L467,534.8L467,540.2L464.2,543L458.8,543L456,540.2L456,534.8Z" fill="#e51e10"/><path d="M461.5,532V531M461.5,543V544M456,537.5H455M467,537.5H468" stroke="#e51e10" stroke-width="1" fill="none"/>
<path d="M465.8,532L471.2,532L474,534.8L474,540.2L471.2,543L465.8,543L463,540.2L463,534.8Z" fill="#e51e10"/><path d="M468.5,532V531M468.5,543V544M463,537.5H462M474,537.5H475" stroke="#e51e10" stroke-width="1" fill="none"/>
<path d="M512.8,531L518.2,531L521,533.8L521,539.2L518.2,542L512.8,542L510,539.2L510,533.8Z" fill="#e51e10"/><path d="M515.5,531V530M515.5,542V543M510,536.5H509M521,536.5H522" stroke="#e51e10" stroke-width="1" fill="none"/>
<path d="M518.8,531L524.2,531L527,533.8L527,539.2L524.2,542L518.8,542L516,539.2L516,533.8Z" fill="#e51e10"/><path d="M521.5,531V530M521.5,542V543M516,536.5H515M527,536.5H528" stroke="#e51e10" stroke-width="1" fill="none"/>
<path d="M565.8,531L571.2,531L574,533.8L574,539.2L571.2,542L565.8,542L563,539.2L563,533.8Z" fill="#e51e10"/><path d="M568.5,531V530M568.5,542V543M563,536.5H562M574,536.5H575" stroke="#e51e10" stroke-width="1" fill="none"/>
<path d="M571.8,530L577.2,530L580,532.8L580,538.2L577.2,541L571.8,541L569,538.2L569,532.8Z" fill="#e51e10"/><path d="M574.5,530V529M574.5,541V542M569,535.5H568M580,535.5H581" stroke="#e51e10" stroke-width="1" fill="none"/>
<path d="M618.8,530L624.2,530L627,532.8L627,538.2L624.2,541L618.8,541L616,538.2L616,532.8Z" fill="#e51e10"/><path d="M621.5,530V529M621.5,541V542M616,535.5H615M627,535.5H628" stroke="#e51e10" stroke-width="1" fill="none"/>
<path d="M624.8,531L630.2,531L633,533.8L633,539.2L630.2,542L624.8,542L622,539.2L622,533.8Z" fill="#e51e10"/><path d="M627.5,531V530M627.5,542V543M622,536.5H621M633,536.5H634" stroke="#e51e10" stroke-width="1" fill="none"/>
<path d="M671.8,530L677.2,530L680,532.8L680,538.2L677.2,541L671.8,541L669,538.2L669,532.8Z" fill="#e51e10"/><path d="M674.5,530V529M674.5,541V542M669,535.5H668M680,535.5H681" stroke="#e51e10" stroke-width="1" fill="none"/>
<path d="M677.8,531L683.2,531L686,533.8L686,539.2L683.2,542L677.8,542L675,539.2L675,533.8Z" fill="#e51e10"/><path d="M680.5,531V530M680.5,542V543M675,536.5H674M686,536.5H687" stroke="#e51e10" stroke-width="1" fill="none"/>
<path d="M724.8,530L730.2,530L733,532.8L733,538.2L730.2,541L724.8,541L722,538.2L722,532.8Z" fill="#e51e10"/><path d="M727.5,530V529M727.5,541V542M722,535.5H721M733,535.5H734" stroke="#e51e10" stroke-width="1" fill="none"/>
<path d="M730.8,532L736.2,532L739,534.8L739,540.2L736.2,543L730.8,543L728,540.2L728,534.8Z" fill="#e51e10"/><path d="M733.5,532V531M733.5,543V544M728,537.5H727M739,537.5H740" stroke="#e51e10" stroke-width="1" fill="none"/>
<path d="M777.8,530L783.2,530L786,532.8L786,538.2L783.2,541L777.8,541L775,538.2L775,532.8Z" fill="#e51e10"/><path d="M780.5,530V529M780.5,541V542M775,535.5H774M786,535.5H787" stroke="#e51e10" stroke-width="1" fill="none"/>
<path d="M783.8,531L789.2,531L792,533.8L792,539.2L789.2,542L783.8,542L781,539.2L781,533.8Z" fill="#e51e10"/><path d="M786.5,531V530M786.5,542V543M781,536.5H780M792,536.5H793" stroke="#e51e10" stroke-width="1" fill="none"/>
<path d="M830.8,532L836.2,532L839,534.8L839,540.2L836.2,543L830.8,543L828,540.2L828,534.8Z" fill="#e51e10"/><path d="M833.5,532V531M833.5,543V544M828,537.5H827M839,537.5H840" stroke="#e51e10" stroke-width="1" fill="none"/>
<path d="M837.8,532L843.2,532L846,534.8L846,540.2L843.2,543L837.8,543L835,540.2L835,534.8Z" fill="#e51e10"/><path d="M840.5,532V531M840.5,543V544M835,537.5H834M846,537.5H847" stroke="#e51e10" stroke-width="1" fill="none"/>
<path d="M882.8,532L888.2,532L891,534.8L891,540.2L888.2,543L882.8,543L880,540.2L880,534.8Z" fill="#e51e10"/><path d="M885.5,532V531M885.5,543V544M880,537.5H879M891,537.5H892" stroke="#e51e10" stroke-width="1" fill="none"/>
<path d="M890.8,531L896.2,531L899,533.8L899,539.2L896.2,542L890.8,542L888,539.2L888,533.8Z" fill="#e51e10"/><path d="M893.5,531V530M893.5,542V543M888,536.5H887M899,536.5H900" stroke="#e51e10" stroke-width="1" fill="none"/>
<path d="M937.8,530L943.2,530L946,532.8L946,538.2L943.2,541L937.8,541L935,538.2L935,532.8Z" fill="#e51e10"/><path d="M940.5,530V529M940.5,541V542M935,535.5H934M946,535.5H947" stroke="#e51e10" stroke-width="1" fill="none"/>
<path d="M943.8,530L949.2,530L952,532.8L952,538.2L949.2,541L943.8,541L941,538.2L941,532.8Z" fill="#e51e10"/><path d="M946.5,530V529M946.5,541V542M941,535.5H940M952,535.5H953" stroke="#e51e10" stroke-width="1" fill="none"/>
<path d="M990.8,530L996.2,530L999,532.8L999,538.2L996.2,541L990.8,541L988,538.2L988,532.8Z" fill="#e51e10"/><path d="M993.5,530V529M993.5,541V542M988,535.5H987M999,535.5H1000" stroke="#e51e10" stroke-width="1" fill="none"/>
<path d="M996.8,531L1002.2,531L1005,533.8L1005,539.2L1002.2,542L996.8,542L994,539.2L994,533.8Z" fill="#e51e10"/><path d="M999.5,531V530M999.5,542V543M994,536.5H993M1005,536.5H1006" stroke="#e51e10" stroke-width="1" fill="none"/>
<path d="M1043.8,532L1049.2,532L1052,534.8L1052,540.2L1049.2,543L1043.8,543L1041,540.2L1041,534.8Z" fill="#e51e10"/><path d="M1046.5,532V531M1046.5,543V544M1041,537.5H1040M1052,537.5H1053" stroke="#e51e10" stroke-width="1" fill="none"/>
<path d="M1049.8,532L1055.2,532L1058,534.8L1058,540.2L1055.2,543L1049.8,543L1047,540.2L1047,534.8Z" fill="#e51e10"/><path d="M1052.5,532V531M1052.5,543V544M1047,537.5H1046M1058,537.5H1059" stroke="#e51e10" stroke-width="1" fill="none"/>
<path d="M1096.8,532L1102.2,532L1105,534.8L1105,540.2L1102.2,543L1096.8,543L1094,540.2L1094,534.8Z" fill="#e51e10"/><path d="M1099.5,532V531M1099.5,543V544M1094,537.5H1093M1105,537.5H1106" stroke="#e51e10" stroke-width="1" fill="none"/>
<path d="M1102.8,531L1108.2,531L1111,533.8L1111,539.2L1108.2,542L1102.8,542L1100,539.2L1100,533.8Z" fill="#e51e10"/><path d="M1105.5,531V530M1105.5,542V543M1100,536.5H1099M1111,536.5H1112" stroke="#e51e10" stroke-width="1" fill="none"/>
<path d="M1149.8,530L1155.2,530L1158,532.8L1158,538.2L1155.2,541L1149.8,541L1147,538.2L1147,532.8Z" fill="#e51e10"/><path d="M1152.5,530V529M1152.5,541V542M1147,535.5H1146M1158,535.5H1159" stroke="#e51e10" stroke-width="1" fill="none"/>
<path d="M1155.8,530L1161.2,530L1164,532.8L1164,538.2L1161.2,541L1155.8,541L1153,538.2L1153,532.8Z" fill="#e51e10"/><path d="M1158.5,530V529M1158.5,541V542M1153,535.5H1152M1164,535.5H1165" stroke="#e51e10" stroke-width="1" fill="none"/>
<path d="M1202.8,532L1208.2,532L1211,534.8L1211,540.2L1208.2,543L1202.8,543L1200,540.2L1200,534.8Z" fill="#e51e10"/><path d="M1205.5,532V531M1205.5,543V544M1200,537.5H1199M1211,537.5H1212" stroke="#e51e10" stroke-width="1" fill="none"/>
<path d="M1208.8,531L1214.2,531L1217,533.8L1217,539.2L1214.2,542L1208.8,542L1206,539.2L1206,533.8Z" fill="#e51e10"/><path d="M1211.5,531V530M1211.5,542V543M1206,536.5H1205M1217,536.5H1218" stroke="#e51e10" stroke-width="1" fill="none"/>
<path d="M1255.8,530L1261.2,530L1264,532.8L1264,538.2L1261.2,541L1255.8,541L1253,538.2L1253,532.8Z" fill="#e51e10"/><path d="M1258.5,530V529M1258.5,541V542M1253,535.5H1252M1264,535.5H1265" stroke="#e51e10" stroke-width="1" fill="none"/>
<path d="M1262.8,530L1268.2,530L1271,532.8L1271,538.2L1268.2,541L1262.8,541L1260,538.2L1260,532.8Z" fill="#e51e10"/><path d="M1265.5,530V529M1265.5,541V542M1260,535.5H1259M1271,535.5H1272" stroke="#e51e10" stroke-width="1" fill="none"/>
<path d="M1308.8,530L1314.2,530L1317,532.8L1317,538.2L1314.2,541L1308.8,541L1306,538.2L1306,532.8Z" fill="#e51e10"/><path d="M1311.5,530V529M1311.5,541V542M1306,535.5H1305M1317,535.5H1318" stroke="#e51e10" stroke-width="1" fill="none"/>
<path d="M1315.8,531L1321.2,531L1324,533.8L1324,539.2L1321.2,542L1315.8,542L1313,539.2L1313,533.8Z" fill="#e51e10"/><path d="M1318.5,531V530M1318.5,542V543M1313,536.5H1312M1324,536.5H1325" stroke="#e51e10" stroke-width="1" fill="none"/>
<path d="M1362.8,530L1368.2,530L1371,532.8L1371,538.2L1368.2,541L1362.8,541L1360,538.2L1360,532.8Z" fill="#e51e10"/><path d="M1365.5,530V529M1365.5,541V542M1360,535.5H1359M1371,535.5H1372" stroke="#e51e10" stroke-width="1" fill="none"/>
<path d="M200.5,456.5L192.5,468.5L208.5,468.5Z" fill="none" stroke="#000000" stroke-width="1"/>
<path d="M987.5,456.5L979.5,468.5L995.5,468.5Z" fill="none" stroke="#000000" stroke-width="1"/>
<path d="M1305.5,456.5L1297.5,468.5L1313.5,468.5Z" fill="none" stroke="#000000" stroke-width="1"/>
<path d="M1310.5,456.5L1302.5,468.5L1318.5,468.5Z" fill="none" stroke="#000000" stroke-width="1"/>
<path d="M200.5,402.5L192.5,414.5L208.5,414.5Z" fill="#9400d3" stroke="#9400d3" stroke-width="1"/>
<path d="M307.5,402.5L299.5,414.5L315.5,414.5Z" fill="#9400d3" stroke="#9400d3" stroke-width="1"/>
<path d="M413.5,402.5L405.5,414.5L421.5,414.5Z" fill="#9400d3" stroke="#9400d3" stroke-width="1"/>
<path d="M519.5,402.5L511.5,414.5L527.5,414.5Z" fill="#9400d3" stroke="#9400d3" stroke-width="1"/>
<path d="M572.5,402.5L564.5,414.5L580.5,414.5Z" fill="#9400d3" stroke="#9400d3" stroke-width="1"/>
<path d="M678.5,402.5L670.5,414.5L686.5,414.5Z" fill="#9400d3" stroke="#9400d3" stroke-width="1"/>
<path d="M732.5,402.5L724.5,414.5L740.5,414.5Z" fill="#9400d3" stroke="#9400d3" stroke-width="1"/>
<path d="M1263.5,402.5L1255.5,414.5L1271.5,414.5Z" fill="#9400d3" stroke="#9400d3" stroke-width="1"/>
<path d="M1316.5,402.5L1308.5,414.5L1324.5,414.5Z" fill="#9400d3" stroke="#9400d3" stroke-width="1"/>
<path d="M194,420.5H207M200.5,414V427" stroke="#009e73" stroke-width="1" fill="none"/>
</g>
<g id="key">
<text x="1109.29" y="77.1" textLength="181.47">&quot;Ypingresult.txt&quot; using 1:2</text>
<path d="M1303,73.5H1350" stroke="#9400d3" fill="none"/>
<text x="1091.29" y="96.13" textLength="199.24">&quot;YTimetcpping.txt&quot; using 1:2</text>
<path d="M1303,92.5H1350" stroke="#009e73" fill="none"/>
<text x="1041.57" y="115.16" textLength="249.04">&quot;YCustPingSiteTimes.txt&quot; using 1:2</text>
<path d="M1303,111.6H1350" stroke="#56b4e9" fill="none"/>
<text x="1095.97" y="134.19" textLength="194.73">&quot;Yofflineresult.txt&quot; using 1:2</text>
<rect x="1320.5" y="124.5" width="12" height="12" fill="none" stroke="#e69f00" stroke-width="1"/>
<text x="1084.29" y="153.22" textLength="206.38">&quot;Ytcpoff_record.txt&quot; using 1:2</text>
<rect x="1320" y="143" width="13" height="13" fill="#f0e442"/>
<text x="1120.97" y="172.25" textLength="169.65">&quot;Ycurltime.txt&quot; using 1:2</text>
<path d="M1324.1,163.5L1328.9,163.5L1331.5,166.1L1331.5,170.9L1328.9,173.5L1324.1,173.5L1321.5,170.9L1321.5,166.1Z" fill="none" stroke="#0072b2" stroke-width="1"/><path d="M1326.5,163V162M1326.5,174V175M1321,168.5H1320M1332,168.5H1333" stroke="#0072b2" stroke-width="1" fill="none"/>
<text x="1095.29" y="191.28" textLength="195.28">&quot;Ycurldnstime.txt&quot; using 1:2</text>
<path d="M1323.8,182L1329.2,182L1332,184.8L1332,190.2L1329.2,193L1323.8,193L1321,190.2L1321,184.8Z" fill="#e51e10"/><path d="M1326.5,182V181M1326.5,193V194M1321,187.5H1320M1332,187.5H1333" stroke="#e51e10" stroke-width="1" fill="none"/>
<text x="1055.29" y="210.31" textLength="235.41">&quot;YCustPingTimeout.txt&quot; using 1:2</text>
<path d="M1326.5,198.5L1318.5,210.5L1334.5,210.5Z" fill="none" stroke="#000000" stroke-width="1"/>
<text x="1075.29" y="229.34" textLength="215.46">&quot;Ypingtargetchange&quot; using 1:2</text>
<path d="M1326.5,217.5L1318.5,229.5L1334.5,229.5Z" fill="#9400d3" stroke="#9400d3" stroke-width="1"/>
<text x="1084.97" y="248.37" textLength="205.84">&quot;YHPpingresult.txt&quot; using 1:2</text>
<path d="M1320,244.5H1333M1326.5,238V251" stroke="#009e73" stroke-width="1" fill="none"/>
</g>
<rect x="94.5" y="57.5" width="1275" height="482" stroke="#000" stroke-width="1" fill="none"/>
<g id="ticks">
<text x="71.63" y="561.6" textLength="40.85">00:00</text>
<text x="177.63" y="561.6" textLength="40.85">02:00</text>
<text x="284.66" y="561.6" textLength="40.55">04:00</text>
<text x="390.63" y="561.6" textLength="40.73">06:00</text>
<text x="496.66" y="561.6" textLength="40.68">08:00</text>
<text x="603.62" y="561.6" textLength="40.38">10:00</text>
<text x="710.42" y="561.6" textLength="41.05">12:00</text>
<text x="816.58" y="561.6" textLength="40.81">14:00</text>
<text x="923.1" y="561.6" textLength="40.13">16:00</text>
<text x="1028.9" y="561.6" textLength="40.7">18:00</text>
<text x="1135.33" y="561.6" textLength="41.16">20:00</text>
<text x="1241.49" y="561.6" textLength="40.52">22:00</text>
<text x="1346.63" y="561.6" textLength="40.85">00:00</text>
<text x="72.1" y="542.7">0</text>
<text x="54.3" y="425.2">500</text>
<text x="45.4" y="307.7">1000</text>
<text x="45.4" y="190.2">1500</text>
<text x="45.4" y="72.7">2000</text>
<text class="m" transform="translate(16.6,298.5) rotate(-90)">msec</text>
<text x="372.8" y="589.9" textLength="713.69">&lt;-START at 2AM Yday, right to 12AM Tday-&gt;, then wrap left to 1AM Tday&lt;- [ignore connecting lines]</text>
</g>
</svg></body></html>
